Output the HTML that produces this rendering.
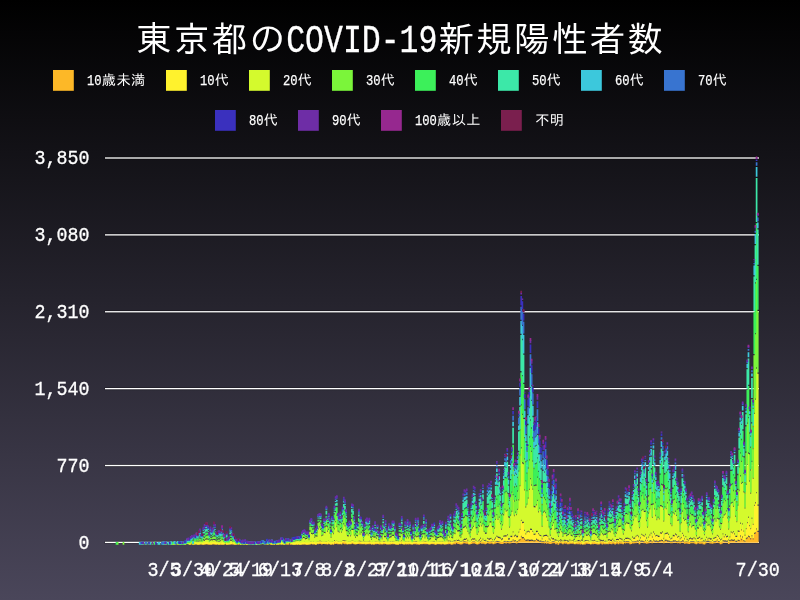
<!DOCTYPE html>
<html lang="ja"><head><meta charset="utf-8"><title>東京都のCOVID-19新規陽性者数</title>
<style>html,body{margin:0;padding:0;background:#4a465a}body{width:800px;height:600px;overflow:hidden;background:linear-gradient(to bottom,#000 0,#4a465a 600px)}svg{display:block}</style>
</head><body>
<svg width="800" height="600" viewBox="0 0 800 600">
<g fill="#fff"><rect x="104.6" y="540.9" width="655" height="3" fill="#000" fill-opacity=".3"/><rect x="105" y="541.75" width="654" height="1.3"/><rect x="104.6" y="464.02" width="655" height="3" fill="#000" fill-opacity=".3"/><rect x="105" y="464.87" width="654" height="1.3"/><rect x="104.6" y="387.14" width="655" height="3" fill="#000" fill-opacity=".3"/><rect x="105" y="387.99" width="654" height="1.3"/><rect x="104.6" y="310.26" width="655" height="3" fill="#000" fill-opacity=".3"/><rect x="105" y="311.11" width="654" height="1.3"/><rect x="104.6" y="233.38" width="655" height="3" fill="#000" fill-opacity=".3"/><rect x="105" y="234.23" width="654" height="1.3"/><rect x="104.6" y="156.5" width="655" height="3" fill="#000" fill-opacity=".3"/><rect x="105" y="157.35" width="654" height="1.3"/></g>
<g fill="none" stroke-width="1.7"><path stroke="#FDB827" d="M174.49 542.07V544.63M177.97 542.07V544.63M184.93 542.07V544.63M190.73 542.07V544.63M194.21 542.07V544.63M197.69 542.07V544.63M200.01 542.07V544.43M201.16 542.07V544.53M202.32 542.07V544.53M203.48 542.07V544.63M204.64 542.07V544.43M205.8 542.07V544.43M206.96 542.07V544.33M208.12 542.07V544.43M209.28 542.07V544.63M210.44 542.07V544.63M211.6 542.07V544.53M212.76 542.07V544.23M213.92 542.07V544.53M215.08 542.07V544.43M216.24 542.07V544.63M217.4 542.07V544.33M219.72 542.07V544.63M220.88 542.07V544.63M222.04 542.07V544.53M223.2 542.07V544.63M226.68 542.07V544.63M227.84 542.07V544.63M230.15 542.07V544.43M231.31 542.07V544.43M232.47 542.07V544.53M234.79 542.07V544.63M235.95 542.07V544.53M238.27 542.07V544.63M244.07 542.07V544.63M247.55 542.07V544.63M267.26 542.07V544.63M270.74 542.07V544.63M271.9 542.07V544.63M281.18 542.07V544.53M286.97 542.07V544.63M288.13 542.07V544.63M290.45 542.07V544.63M293.93 542.07V544.63M296.25 542.07V544.53M297.41 542.07V544.63M299.73 542.07V544.63M302.05 542.07V544.53M303.21 542.07V544.53M304.37 542.07V544.43M306.69 542.07V544.63M307.85 542.07V544.63M310.16 542.07V544.43M312.48 542.07V544.43M313.64 542.07V544.43M314.8 542.07V544.53M315.96 542.07V544.63M318.28 542.07V544.13M319.44 542.07V543.93M320.6 542.07V543.93M321.76 542.07V544.43M322.92 542.07V544.03M324.08 542.07V544.03M325.24 542.07V544.33M326.4 542.07V544.23M327.56 542.07V544.43M328.72 542.07V543.73M329.88 542.07V544.33M331.04 542.07V544.63M332.2 542.07V544.13M333.36 542.07V544.63M334.52 542.07V543.63M335.68 542.07V544.03M336.84 542.07V543.73M337.99 542.07V544.13M339.15 542.07V544.23M340.31 542.07V543.93M341.47 542.07V544.43M342.63 542.07V543.23M343.79 542.07V543.73M344.95 542.07V544.13M346.11 542.07V543.73M347.27 542.07V544.33M348.43 542.07V544.33M349.59 542.07V544.13M350.75 542.07V544.33M351.91 542.07V543.53M353.07 542.07V543.73M354.23 542.07V544.23M355.39 542.07V544.43M356.55 542.07V544.33M357.71 542.07V543.93M358.87 542.07V544.03M360.03 542.07V544.13M361.19 542.07V544.13M362.35 542.07V544.23M363.51 542.07V544.23M364.66 542.07V544.13M365.82 542.07V544.43M366.98 542.07V544.13M368.14 542.07V544.23M369.3 542.07V544.13M370.46 542.07V544.03M371.62 542.07V544.43M372.78 542.07V544.33M373.94 542.07V544.63M375.1 542.07V544.23M376.26 542.07V544.23M377.42 542.07V543.93M378.58 542.07V544.13M379.74 542.07V544.43M380.9 542.07V544.13M382.06 542.07V544.43M383.22 542.07V544.13M384.38 542.07V544.33M385.54 542.07V544.03M386.7 542.07V544.43M387.86 542.07V544.33M389.02 542.07V544.43M390.18 542.07V544.53M391.34 542.07V544.23M392.49 542.07V544.13M393.65 542.07V544.23M394.81 542.07V544.13M395.97 542.07V544.53M397.13 542.07V544.63M398.29 542.07V544.63M399.45 542.07V543.83M400.61 542.07V544.33M401.77 542.07V543.83M402.93 542.07V544.23M404.09 542.07V544.43M405.25 542.07V544.23M406.41 542.07V544.43M407.57 542.07V544.23M408.73 542.07V544.43M409.89 542.07V544.03M411.05 542.07V544.53M412.21 542.07V544.53M413.37 542.07V544.33M414.53 542.07V544.23M415.69 542.07V544.33M416.85 542.07V544.53M418.01 542.07V544.43M419.16 542.07V544.63M420.32 542.07V544.23M421.48 542.07V544.23M422.64 542.07V544.13M423.8 542.07V543.93M424.96 542.07V544.33M426.12 542.07V544.13M427.28 542.07V543.93M428.44 542.07V544.43M429.6 542.07V544.43M430.76 542.07V544.23M431.92 542.07V544.03M433.08 542.07V544.33M434.24 542.07V544.33M435.4 542.07V544.63M436.56 542.07V544.53M437.72 542.07V544.03M438.88 542.07V544.33M440.04 542.07V544.33M441.2 542.07V544.43M442.36 542.07V544.23M443.52 542.07V544.23M444.68 542.07V544.53M445.84 542.07V544.53M446.99 542.07V544.23M448.15 542.07V544.13M449.31 542.07V544.03M450.47 542.07V544.33M451.63 542.07V544.63M452.79 542.07V544.53M453.95 542.07V543.83M455.11 542.07V544.13M456.27 542.07V543.03M457.43 542.07V543.63M458.59 542.07V544.03M459.75 542.07V544.13M460.91 542.07V544.43M462.07 542.07V544.13M463.23 542.07V543.53M464.39 542.07V543.33M465.55 542.07V543.53M466.71 542.07V543.73M467.87 542.07V543.73M469.03 542.07V544.43M470.19 542.07V544.13M471.35 542.07V544.03M472.51 542.07V543.53M473.66 542.07V543.53M474.82 542.07V543.43M475.98 542.07V544.03M477.14 542.07V544.43M478.3 542.07V544.23M479.46 542.07V543.63M480.62 542.07V543.03M481.78 542.07V543.83M482.94 542.07V543.83M484.1 542.07V543.63M485.26 542.07V544.23M486.42 542.07V543.83M487.58 542.07V543.03M488.74 542.07V543.43M489.9 542.07V543.83M491.06 542.07V543.43M492.22 542.07V543.43M493.38 542.07V544.33M494.54 542.07V543.83M495.7 542.07V543.43M496.86 542.07V542.83M498.02 542.07V543.03M499.18 542.07V543.33M500.34 542.07V543.73M501.49 542.07V544.03M502.65 542.07V543.93M503.81 542.07V543.13M504.97 541.97V542.73M506.13 542.07V543.43M507.29 542.07V543.03M508.45 542.07V543.33M509.61 542.07V543.53M510.77 542.07V543.33M511.93 541.97V542.73M513.09 540.48V542.73M514.25 541.87V542.73M515.41 541.37V542.73M516.57 542.07V543.43M517.73 542.07V542.93M518.89 541.07V542.73M520.05 540.28V542.73M521.21 537.18V542.73M522.37 538.38V542.73M523.53 538.28V542.73M524.69 539.78V542.73M525.85 541.07V542.73M527.01 540.78V542.73M528.16 540.48V542.73M529.32 541.17V542.73M530.48 540.97V542.73M531.64 540.87V542.73M532.8 540.97V542.73M533.96 541.87V542.73M535.12 541.27V542.73M536.28 539.88V542.73M537.44 540.78V542.73M538.6 541.17V542.73M539.76 541.97V542.73M540.92 541.67V542.73M542.08 542.07V543.13M543.24 542.07V542.93M544.4 542.07V543.43M545.56 541.57V542.73M546.72 542.07V543.63M547.88 542.07V542.73M549.04 542.07V543.83M550.2 542.07V543.93M551.36 542.07V543.83M552.52 542.07V543.13M553.68 542.07V543.23M554.84 542.07V543.13M555.99 542.07V544.13M557.15 542.07V543.33M558.31 542.07V544.63M559.47 542.07V543.53M560.63 542.07V543.13M561.79 542.07V543.43M562.95 542.07V544.23M564.11 542.07V543.33M565.27 542.07V543.63M566.43 542.07V543.43M567.59 542.07V544.33M568.75 542.07V544.33M569.91 542.07V543.83M571.07 542.07V543.83M572.23 542.07V543.73M573.39 542.07V543.43M574.55 542.07V544.33M575.71 542.07V544.13M576.87 542.07V543.83M578.03 542.07V544.13M579.19 542.07V543.83M580.35 542.07V544.43M581.51 542.07V544.03M582.66 542.07V544.53M583.82 542.07V544.53M584.98 542.07V544.43M586.14 542.07V543.73M587.3 542.07V543.73M588.46 542.07V544.03M589.62 542.07V544.03M590.78 542.07V544.53M591.94 542.07V543.63M593.1 542.07V544.13M594.26 542.07V544.03M595.42 542.07V544.03M596.58 542.07V544.33M597.74 542.07V544.53M598.9 542.07V544.53M600.06 542.07V543.53M601.22 542.07V543.63M602.38 542.07V544.53M603.54 542.07V543.63M604.7 542.07V544.33M605.86 542.07V544.13M608.18 542.07V544.33M609.34 542.07V543.83M610.49 542.07V543.93M611.65 542.07V544.13M612.81 542.07V543.53M613.97 542.07V543.83M615.13 542.07V544.53M616.29 542.07V543.83M617.45 542.07V543.43M618.61 542.07V544.23M619.77 542.07V543.13M620.93 542.07V543.83M622.09 542.07V543.73M623.25 542.07V544.23M624.41 542.07V543.03M625.57 542.07V543.43M626.73 542.07V543.03M627.89 542.07V543.23M629.05 542.07V543.23M630.21 542.07V544.23M631.37 542.07V543.93M632.53 542.07V543.23M633.69 542.07V543.53M634.85 542.07V543.23M636.01 542.07V543.33M637.16 541.47V542.73M638.32 542.07V542.83M639.48 542.07V544.23M640.64 542.07V542.83M641.8 541.77V542.73M642.96 542.07V542.83M644.12 542.07V543.23M645.28 541.07V542.73M646.44 542.07V543.73M647.6 542.07V543.53M648.76 542.07V543.23M649.92 541.67V542.73M651.08 541.47V542.73M652.24 542.07V543.23M653.4 540.48V542.73M654.56 541.87V542.73M655.72 542.07V542.73M656.88 541.67V542.73M658.04 542.07V542.93M659.2 541.67V542.73M660.36 541.47V542.73M661.52 540.87V542.73M662.68 541.27V542.73M663.84 542.07V543.33M664.99 541.17V542.73M666.15 540.87V542.73M667.31 541.67V542.73M668.47 541.77V542.73M669.63 541.97V542.73M670.79 542.07V543.33M671.95 542.07V543.23M673.11 541.67V542.73M674.27 541.87V542.73M675.43 541.57V542.73M676.59 542.07V542.93M677.75 542.07V543.13M678.91 541.67V542.73M680.07 542.07V543.53M681.23 542.07V542.93M682.39 541.47V542.73M683.55 541.77V542.73M684.71 542.07V543.73M685.87 542.07V543.53M687.03 542.07V543.43M688.19 542.07V543.83M689.35 542.07V543.93M690.51 542.07V543.13M691.66 542.07V543.23M692.82 542.07V543.23M693.98 542.07V543.13M695.14 542.07V543.73M696.3 542.07V544.23M697.46 542.07V543.53M698.62 542.07V543.13M699.78 542.07V543.73M700.94 542.07V543.83M702.1 542.07V543.23M703.26 542.07V544.13M704.42 542.07V544.43M705.58 542.07V543.43M706.74 541.97V542.73M707.9 542.07V542.73M709.06 541.97V542.73M710.22 542.07V543.43M711.38 542.07V543.53M712.54 542.07V543.73M713.7 542.07V543.13M714.86 542.07V543.23M716.02 541.97V542.73M717.18 540.58V542.73M718.34 542.07V543.03M719.49 542.07V543.23M720.65 542.07V544.13M721.81 542.07V543.63M722.97 541.27V542.73M724.13 541.87V542.73M725.29 541.67V542.73M726.45 542.07V542.83M727.61 541.77V542.73M728.77 542.07V543.93M729.93 541.27V542.73M731.09 540.58V542.73M732.25 540.78V542.73M733.41 540.97V542.73M734.57 540.58V542.73M735.73 542.07V542.83M736.89 541.97V542.73M738.05 540.87V542.73M739.21 541.27V542.73M740.37 536.68V542.73M741.53 540.18V542.73M742.69 537.68V542.73M743.85 541.27V542.73M745.01 542.07V542.83M746.16 539.18V542.73M747.32 538.48V542.73M748.48 536.88V542.73M749.64 537.48V542.73M750.8 539.38V542.73M751.96 536.38V542.73M753.12 539.58V542.73M754.28 533.99V542.73M755.44 533.59V542.73M756.6 529.59V542.73M757.76 532.09V542.73"/><path stroke="#FFF22D" d="M171.02 542.07V544.63M189.57 542.07V544.63M193.05 542.07V544.63M195.37 542.07V544.43M196.53 542.07V544.53M197.69 541.97V544.43M198.85 542.07V544.63M200.01 541.77V544.13M202.32 541.87V544.43M203.48 541.97V544.53M204.64 541.77V544.13M205.8 541.77V544.03M206.96 541.67V544.03M208.12 541.77V544.13M209.28 541.97V544.33M210.44 541.97V544.33M211.6 541.87V544.43M212.76 541.57V543.83M213.92 541.87V543.83M215.08 541.77V544.13M216.24 541.97V544.33M217.4 541.67V544.23M218.56 542.07V544.63M219.72 541.97V544.33M222.04 541.87V544.43M223.2 541.97V544.23M224.36 542.07V544.53M226.68 541.97V544.43M227.84 541.97V544.53M228.99 542.07V544.53M230.15 541.77V544.23M231.31 541.77V543.93M233.63 542.07V544.53M234.79 541.97V544.53M235.95 541.87V544.43M240.59 542.07V544.63M246.39 542.07V544.63M256.82 542.07V544.63M271.9 541.97V544.53M274.22 542.07V544.63M276.54 542.07V544.63M277.7 542.07V544.63M278.86 542.07V544.63M281.18 541.87V544.43M282.34 542.07V544.53M283.49 542.07V544.63M284.65 542.07V544.63M291.61 542.07V544.53M292.77 542.07V544.63M293.93 541.97V544.53M295.09 542.07V544.63M296.25 541.87V544.13M297.41 541.97V544.53M298.57 542.07V544.53M299.73 541.97V544.53M300.89 542.07V544.63M302.05 541.87V544.33M303.21 541.87V544.23M304.37 541.77V543.73M305.53 542.07V544.43M306.69 541.97V544.43M307.85 541.97V544.43M309.01 542.07V544.53M310.16 541.77V543.83M311.32 542.07V543.83M312.48 541.77V543.93M313.64 541.77V543.53M314.8 541.87V543.93M315.96 541.97V544.43M317.12 542.07V543.73M318.28 541.47V543.43M319.44 541.27V542.83M320.6 541.27V542.83M321.76 541.77V543.53M322.92 541.37V543.83M324.08 541.37V543.43M325.24 541.67V543.73M326.4 541.57V543.33M327.56 541.77V543.93M328.72 541.07V542.73M329.88 541.67V543.73M331.04 541.97V544.33M332.2 541.47V543.33M333.36 541.97V543.93M334.52 540.97V541.93M335.68 541.37V543.13M336.84 541.07V542.83M337.99 541.47V543.23M339.15 541.57V543.63M340.31 541.27V543.23M341.47 541.77V543.63M342.63 540.57V542.03M343.79 541.07V542.13M344.95 541.47V542.53M346.11 541.07V542.63M347.27 541.67V544.13M348.43 541.67V543.73M349.59 541.47V543.63M350.75 541.67V543.83M351.91 540.87V542.53M353.07 541.07V542.83M354.23 541.57V543.73M355.39 541.77V543.73M356.55 541.67V543.93M357.71 541.27V543.43M358.87 541.37V542.83M360.03 541.47V542.83M361.19 541.47V543.23M362.35 541.57V543.73M363.51 541.57V543.83M364.66 541.47V543.23M365.82 541.77V543.63M366.98 541.47V543.63M368.14 541.57V543.53M369.3 541.47V542.83M370.46 541.37V543.23M371.62 541.77V544.23M372.78 541.67V543.83M373.94 541.97V544.03M375.1 541.57V543.43M376.26 541.57V543.43M377.42 541.27V543.23M378.58 541.47V543.63M380.9 541.47V543.23M382.06 541.77V544.03M383.22 541.47V542.93M384.38 541.67V542.93M385.54 541.37V543.53M386.7 541.77V544.03M387.86 541.67V544.13M389.02 541.77V543.93M390.18 541.87V543.33M391.34 541.57V543.63M392.49 541.47V543.03M393.65 541.57V543.43M394.81 541.47V543.73M395.97 541.87V544.33M397.13 541.97V544.13M398.29 541.97V544.23M399.45 541.17V543.43M400.61 541.67V543.63M401.77 541.17V542.33M402.93 541.57V543.93M404.09 541.77V544.23M405.25 541.57V543.33M406.41 541.77V543.73M407.57 541.57V543.83M408.73 541.77V543.43M409.89 541.37V543.43M411.05 541.87V543.93M412.21 541.87V544.33M413.37 541.67V543.43M414.53 541.57V543.33M415.69 541.67V543.23M416.85 541.87V543.33M418.01 541.77V544.03M419.16 541.97V543.63M420.32 541.57V544.03M421.48 541.57V543.83M422.64 541.47V543.63M423.8 541.27V542.83M424.96 541.67V543.33M426.12 541.47V543.23M427.28 541.27V543.43M428.44 541.77V543.93M429.6 541.77V544.23M430.76 541.57V543.63M431.92 541.37V543.03M433.08 541.67V543.53M434.24 541.67V542.93M435.4 541.97V544.23M436.56 541.87V543.73M437.72 541.37V543.53M438.88 541.67V543.73M440.04 541.67V543.63M441.2 541.77V543.73M442.36 541.57V543.33M443.52 541.57V543.83M444.68 541.87V544.13M445.84 541.87V543.73M446.99 541.57V543.93M448.15 541.47V542.53M449.31 541.37V542.63M450.47 541.67V542.63M451.63 541.97V543.73M452.79 541.87V543.33M453.95 541.17V542.53M455.11 541.47V542.23M456.27 540.37V541.63M457.43 540.97V541.93M458.59 540.78V542.03M459.75 541.47V542.43M460.91 541.77V543.33M462.07 541.47V542.73M463.23 540.87V541.53M464.39 539.88V541.33M465.55 540.08V541.53M466.71 539.28V541.73M467.87 540.97V541.73M469.03 541.77V543.73M470.19 541.47V543.23M471.35 540.58V542.03M472.51 539.58V541.53M473.66 539.78V541.53M474.82 539.48V541.43M475.98 541.07V542.03M477.14 541.77V543.43M478.3 541.57V542.53M479.46 540.38V541.63M480.62 538.88V541.03M481.78 541.17V542.33M482.94 539.78V541.83M484.1 540.97V542.13M485.26 541.17V542.23M486.42 541.17V542.83M487.58 538.98V541.03M488.74 539.78V541.43M489.9 539.68V541.83M491.06 539.08V541.43M492.22 540.28V541.43M493.38 541.67V543.03M494.54 540.18V541.83M495.7 538.68V541.43M496.86 536.88V540.83M498.02 537.88V541.03M499.18 538.18V541.33M500.34 538.68V541.73M501.49 540.18V542.03M502.65 539.38V541.93M503.81 536.88V541.13M504.97 536.58V540.63M506.13 536.68V541.43M507.29 535.38V541.03M508.45 539.68V541.33M509.61 539.48V541.53M510.77 536.98V541.33M511.93 537.18V540.63M513.09 532.49V539.14M514.25 536.88V540.53M515.41 535.88V540.03M516.57 537.18V541.43M517.73 537.18V540.93M518.89 532.79V539.73M520.05 530.09V538.94M521.21 521.01V535.84M522.37 523.2V537.04M523.53 523.1V536.94M524.69 531.09V538.44M525.85 534.58V539.73M527.01 532.69V539.44M528.16 531.79V539.14M529.32 532.49V539.83M530.48 529.89V539.63M531.64 530.09V539.53M532.8 532.09V539.63M533.96 534.98V540.53M535.12 534.78V539.93M536.28 532.19V538.54M537.44 532.09V539.44M538.6 534.29V539.83M539.76 535.78V540.63M540.92 536.28V540.33M542.08 539.48V541.13M543.24 536.78V540.93M544.4 536.28V541.43M545.56 536.08V540.23M546.72 535.98V541.63M547.88 536.98V540.73M549.04 539.58V541.83M550.2 540.87V541.93M551.36 538.58V541.83M552.52 539.58V541.13M553.68 539.38V541.23M554.84 540.47V541.44M555.99 540.58V542.13M557.15 540.67V542.33M558.31 541.97V542.73M559.47 540.87V542.33M560.63 540.38V541.13M561.79 540.77V541.73M562.95 541.57V542.83M564.11 540.67V541.83M565.27 540.97V541.83M566.43 540.77V542.13M567.59 541.67V542.33M568.75 541.67V542.63M569.91 540.58V541.83M571.07 541.17V542.73M572.23 541.07V542.53M573.39 540.77V541.53M574.55 541.67V543.63M575.71 541.47V543.03M576.87 541.17V542.73M578.03 541.37V542.13M579.19 541.17V542.03M580.35 541.77V542.63M581.51 540.87V542.03M582.66 541.87V544.33M583.82 541.87V543.43M584.98 541.47V542.43M586.14 541.07V542.23M587.3 541.07V542.53M588.46 541.37V542.53M589.62 541.37V542.93M590.78 541.87V543.93M591.94 540.97V542.23M593.1 541.47V542.43M594.26 540.97V542.03M595.42 541.37V542.83M596.58 541.67V543.13M597.74 541.87V543.23M598.9 541.87V543.73M600.06 540.68V541.53M601.22 540.97V541.73M602.38 541.57V542.53M603.54 540.97V541.83M604.7 541.67V542.93M605.86 541.47V542.43M607.02 542.07V543.63M608.18 540.68V542.33M609.34 540.28V541.83M610.49 540.97V541.93M611.65 541.17V542.13M612.81 539.78V541.53M613.97 541.17V541.93M615.13 541.87V543.03M616.29 540.28V541.83M617.45 539.98V541.43M618.61 540.28V542.23M619.77 539.08V541.13M620.93 539.58V541.83M622.09 540.18V541.73M623.25 541.57V542.83M624.41 540.37V541.04M625.57 539.08V541.43M626.73 538.98V541.03M627.89 538.78V541.23M629.05 539.28V541.23M630.21 540.08V542.23M631.37 541.27V542.43M632.53 537.68V541.23M633.69 539.08V541.53M634.85 538.68V541.23M636.01 536.98V541.33M637.16 535.98V540.13M638.32 537.18V540.83M639.48 541.07V542.23M640.64 538.58V540.83M641.8 535.08V540.43M642.96 536.08V540.83M644.12 536.88V541.23M645.28 535.18V539.73M646.44 538.68V541.73M647.6 540.87V541.93M648.76 537.78V541.23M649.92 535.68V540.33M651.08 533.89V540.13M652.24 537.68V541.23M653.4 532.69V539.14M654.56 534.58V540.53M655.72 536.58V540.73M656.88 536.08V540.33M658.04 536.88V540.93M659.2 536.98V540.33M660.36 533.49V540.13M661.52 533.89V539.53M662.68 532.49V539.93M663.84 539.18V541.33M664.99 534.58V539.83M666.15 533.99V539.53M667.31 533.69V540.33M668.47 535.08V540.43M669.63 537.78V540.63M670.79 539.48V541.33M671.95 538.78V541.23M673.11 536.18V540.33M674.27 536.38V540.53M675.43 534.68V540.23M676.59 535.58V540.93M677.75 537.88V541.13M678.91 536.98V540.33M680.07 539.48V541.53M681.23 538.28V540.93M682.39 533.99V540.13M683.55 536.18V540.43M684.71 539.48V541.73M685.87 537.28V541.53M687.03 540.08V541.43M688.19 541.17V541.83M689.35 539.38V541.93M690.51 538.68V541.13M691.66 539.48V541.23M692.82 539.58V541.23M693.98 538.28V541.13M695.14 539.38V541.73M696.3 541.57V542.83M697.46 539.08V541.53M698.62 538.78V541.13M699.78 537.88V541.73M700.94 539.78V541.83M702.1 538.98V541.23M703.26 541.47V542.23M704.42 541.77V542.83M705.58 540.48V541.43M706.74 538.08V540.63M707.9 539.78V540.73M709.06 538.78V540.63M710.22 539.68V541.43M711.38 539.58V541.53M712.54 541.07V542.13M713.7 539.08V541.13M714.86 538.58V541.23M716.02 537.98V540.63M717.18 535.98V539.24M718.34 537.08V541.03M719.49 539.08V541.23M720.65 540.38V542.13M721.81 539.48V541.63M722.97 534.58V539.93M724.13 537.38V540.53M725.29 535.38V540.33M726.45 537.38V540.83M727.61 536.88V540.43M728.77 540.58V541.93M729.93 537.58V539.93M731.09 532.59V539.24M732.25 533.59V539.44M733.41 532.29V539.63M734.57 534.48V539.24M735.73 537.08V540.83M736.89 536.98V540.63M738.05 531.69V539.53M739.21 531.99V539.93M740.37 523.9V535.34M741.53 530.59V538.84M742.69 524.6V536.34M743.85 531.79V539.93M745.01 535.88V540.83M746.16 529.29V537.84M747.32 523.3V537.14M748.48 517.91V535.54M749.64 526.3V536.14M750.8 529.29V538.04M751.96 518.91V535.04M753.12 525V538.24M754.28 506.03V532.65M755.44 503.43V532.25M756.6 493.35V528.25M757.76 505.83V530.75"/><path stroke="#D4FA2D" d="M142.03 542.07V544.53M145.51 542.07V544.63M148.98 542.07V544.63M165.22 542.07V544.63M166.38 542.07V544.53M169.86 542.07V544.63M172.18 542.07V544.63M173.34 542.07V544.63M174.49 541.97V544.33M175.65 542.07V544.63M177.97 541.97V544.23M179.13 542.07V544.53M181.45 542.07V544.53M182.61 542.07V544.53M184.93 541.97V544.53M186.09 542.07V544.23M187.25 542.07V543.93M188.41 542.07V544.23M189.57 541.97V544.03M190.73 541.97V543.63M191.89 542.07V543.33M193.05 541.97V544.33M194.21 541.97V543.23M195.37 541.67V542.43M196.53 541.87V543.33M197.69 541.77V543.03M198.85 541.77V542.63M200.01 541.47V542.63M201.16 541.87V543.63M202.32 541.77V542.93M203.48 540.38V542.53M204.64 540.97V542.13M205.8 539.88V542.03M206.96 539.38V542.03M208.12 539.98V542.13M209.28 541.67V543.03M210.44 540.87V542.33M211.6 540.18V542.43M212.76 540.58V541.83M213.92 540.08V541.83M215.08 540.38V542.13M216.24 541.47V542.33M217.4 541.57V542.63M218.56 541.97V543.13M219.72 541.67V542.83M220.88 541.37V542.63M222.04 540.08V542.43M223.2 541.57V542.23M224.36 541.87V543.23M225.52 542.07V543.83M226.68 541.77V542.43M227.84 541.87V543.73M228.99 541.87V543.63M230.15 540.78V542.23M231.31 541.07V541.93M232.47 541.87V542.83M233.63 541.87V543.03M234.79 541.87V543.33M235.95 541.77V544.23M237.11 542.07V544.23M238.27 541.97V543.83M239.43 542.07V544.23M240.59 541.97V544.33M241.75 542.07V544.43M242.91 542.07V544.43M245.23 542.07V544.23M246.39 541.97V544.33M247.55 541.97V544.53M248.71 542.07V544.63M249.87 542.07V544.33M252.19 542.07V544.63M253.35 542.07V544.43M254.51 542.07V544.63M255.66 542.07V544.63M256.82 541.97V544.13M257.98 542.07V544.53M259.14 542.07V544.43M260.3 542.07V544.23M261.46 542.07V544.13M262.62 542.07V543.93M263.78 542.07V544.13M264.94 542.07V544.43M266.1 542.07V544.13M267.26 541.97V543.83M268.42 542.07V544.53M269.58 542.07V543.83M270.74 541.97V543.93M271.9 541.87V543.53M273.06 542.07V544.53M274.22 541.97V544.13M275.38 542.07V544.03M276.54 541.97V544.03M277.7 541.97V543.93M278.86 541.97V543.83M280.02 542.07V543.63M281.18 541.07V542.43M282.34 541.87V543.03M283.49 541.97V543.43M284.65 541.97V544.13M285.81 542.07V543.13M286.97 541.97V543.43M288.13 541.97V543.53M289.29 542.07V543.23M290.45 541.97V543.13M291.61 541.87V543.13M292.77 541.97V542.73M293.93 541.87V542.73M295.09 541.47V542.63M296.25 541.27V542.13M297.41 541.07V542.53M298.57 540.97V542.53M299.73 541.17V542.53M300.89 540.97V542.63M302.05 539.28V542.33M303.21 537.98V542.23M304.37 538.28V541.73M305.53 539.38V542.43M306.69 538.98V542.43M307.85 538.18V542.43M309.01 540.18V542.53M310.16 531.69V541.83M311.32 534.09V541.83M312.48 534.48V541.93M313.64 533.89V541.53M314.8 537.88V541.93M315.96 536.38V542.43M317.12 536.78V541.73M318.28 529.49V541.43M319.44 527.6V540.83M320.6 529.99V540.83M321.76 536.28V541.53M322.92 535.58V541.83M324.08 533.09V541.43M325.24 533.29V541.73M326.4 526.5V541.33M327.56 531.89V541.93M328.72 530.09V540.73M329.88 533.79V541.73M331.04 538.08V542.33M332.2 532.39V541.33M333.36 534.19V541.93M334.52 529.49V539.93M335.68 522.3V541.13M336.84 527.2V540.83M337.99 531.69V541.23M339.15 532.79V541.63M340.31 529.39V541.23M341.47 532.79V541.63M342.63 530.29V540.03M343.79 524.4V540.13M344.95 526.4V540.53M346.11 531.19V540.63M347.27 536.28V542.13M348.43 536.58V541.73M349.59 534.09V541.63M350.75 536.38V541.83M351.91 529.89V540.53M353.07 530.09V540.83M354.23 535.78V541.73M355.39 537.88V541.73M356.55 536.08V541.93M357.71 536.48V541.43M358.87 530.19V540.83M360.03 534.78V540.83M361.19 532.89V541.23M362.35 535.78V541.73M363.51 540.87V541.83M364.66 536.28V541.23M365.82 535.18V541.63M366.98 533.79V541.63M368.14 535.48V541.53M369.3 534.09V540.83M370.46 537.68V541.23M371.62 539.98V542.23M372.78 536.98V541.83M373.94 537.88V542.03M375.1 537.38V541.43M376.26 538.88V541.43M377.42 536.38V541.23M378.58 540.18V541.63M379.74 541.57V542.43M380.9 537.48V541.23M382.06 539.58V542.03M383.22 534.39V540.93M384.38 537.18V540.93M385.54 537.28V541.53M386.7 539.18V542.03M387.86 541.47V542.13M389.02 538.58V541.93M390.18 537.68V541.33M391.34 537.18V541.63M392.49 536.08V541.03M393.65 536.08V541.43M394.81 537.68V541.73M395.97 540.97V542.33M397.13 540.48V542.13M398.29 541.47V542.23M399.45 536.98V541.43M400.61 537.48V541.63M401.77 533.89V540.33M402.93 539.78V541.93M404.09 541.37V542.23M405.25 537.18V541.33M406.41 538.48V541.73M407.57 536.68V541.83M408.73 538.48V541.43M409.89 536.18V541.43M411.05 539.78V541.93M412.21 541.67V542.63M413.37 538.48V541.43M414.53 539.88V541.33M415.69 536.48V541.23M416.85 537.38V541.33M418.01 536.78V542.03M419.16 538.48V541.63M420.32 541.37V542.33M421.48 539.48V541.83M422.64 537.48V541.63M423.8 534.58V540.83M424.96 538.48V541.33M426.12 536.58V541.23M427.28 538.68V541.43M428.44 541.27V542.23M429.6 539.78V542.23M430.76 539.28V541.63M431.92 536.68V541.03M433.08 537.68V541.53M434.24 536.28V540.93M435.4 539.88V542.23M436.56 540.48V541.73M437.72 538.38V541.53M438.88 538.08V541.73M440.04 537.18V541.63M441.2 537.28V541.73M442.36 538.18V541.33M443.52 539.28V541.83M444.68 541.17V542.13M445.84 538.48V541.73M446.99 540.58V541.93M448.15 536.08V540.53M449.31 537.78V540.63M450.47 534.58V540.63M451.63 537.98V541.73M452.79 538.58V541.33M453.95 533.49V540.53M455.11 534.29V540.23M456.27 529.79V539.63M457.43 531.59V539.93M458.59 531.39V539.44M459.75 536.38V540.43M460.91 537.98V541.33M462.07 534.58V540.73M463.23 528.19V539.53M464.39 527.7V538.54M465.55 526.7V538.74M466.71 528.59V537.94M467.87 531.99V539.63M469.03 534.19V541.73M470.19 537.48V541.23M471.35 530.59V539.24M472.51 528.59V538.24M473.66 527V538.44M474.82 522.4V538.14M475.98 528.49V539.73M477.14 535.08V541.43M478.3 532.49V540.53M479.46 526.9V539.04M480.62 522.9V537.54M481.78 526.4V540.33M482.94 524.2V538.44M484.1 532.09V540.13M485.26 533.89V539.83M486.42 533.79V540.83M487.58 527.4V537.64M488.74 526.4V538.44M489.9 522.6V538.34M491.06 522.5V537.74M492.22 527.3V538.94M493.38 533.79V541.03M494.54 528.79V538.84M495.7 520.11V537.34M496.86 515.31V535.54M498.02 520.01V536.54M499.18 517.81V536.84M500.34 524.3V537.34M501.49 529.89V538.84M502.65 525.5V538.04M503.81 515.41V535.54M504.97 509.72V535.24M506.13 511.72V535.34M507.29 510.82V534.04M508.45 517.51V538.34M509.61 527.8V538.14M510.77 515.81V535.64M511.93 511.92V535.84M513.09 495.25V531.15M514.25 516.21V535.54M515.41 512.72V534.54M516.57 515.31V535.84M517.73 510.12V535.84M518.89 500.44V531.45M520.05 486.26V528.75M521.21 448.42V519.67M522.37 463.4V521.86M523.53 464.19V521.76M524.69 490.55V529.75M525.85 507.63V533.24M527.01 504.83V531.35M528.16 498.64V530.45M529.32 490.05V531.15M530.48 479.37V528.55M531.64 485.66V528.75M532.8 489.85V530.75M533.96 507.13V533.64M535.12 507.43V533.44M536.28 505.43V530.85M537.44 501.04V530.75M538.6 512.42V532.95M539.76 508.73V534.44M540.92 511.82V534.94M542.08 527V538.14M543.24 512.92V535.44M544.4 511.72V534.94M545.56 513.32V534.74M546.72 517.41V534.64M547.88 521.01V535.64M549.04 527.5V538.24M550.2 535.88V539.53M551.36 529.39V537.24M552.52 526.1V538.24M553.68 523.3V538.04M554.84 530.09V539.44M555.99 529.19V539.24M557.15 533.39V540.33M558.31 536.98V540.73M559.47 533.19V540.33M560.63 530.19V539.04M561.79 532.29V539.73M562.95 536.98V540.83M564.11 534.58V539.83M565.27 533.79V539.83M566.43 536.28V540.13M567.59 535.48V540.33M568.75 534.98V540.63M569.91 533.39V539.24M571.07 535.88V540.73M572.23 536.58V540.53M573.39 534.78V539.53M574.55 540.08V541.63M575.71 537.58V541.03M576.87 536.98V540.73M578.03 535.08V540.03M579.19 537.28V540.03M580.35 535.58V540.63M581.51 534.58V539.53M582.66 540.78V542.33M583.82 537.58V541.43M584.98 533.49V540.13M586.14 535.68V540.23M587.3 535.98V540.53M588.46 534.88V540.53M589.62 536.28V540.93M590.78 540.28V541.93M591.94 535.28V540.23M593.1 534.29V540.43M594.26 533.99V539.63M595.42 534.88V540.83M596.58 535.48V541.13M597.74 537.98V541.23M598.9 539.78V541.73M600.06 535.48V539.34M601.22 532.59V539.73M602.38 534.29V540.23M603.54 535.58V539.83M604.7 534.78V540.93M605.86 534.88V540.43M607.02 538.28V541.63M608.18 532.39V539.34M609.34 531.79V538.94M610.49 532.59V539.63M611.65 529.29V539.83M612.81 530.59V538.44M613.97 534.29V539.93M615.13 537.08V541.03M616.29 533.89V538.94M617.45 530.79V538.64M618.61 527.2V538.94M619.77 527V537.74M620.93 526.5V538.24M622.09 529.49V538.84M623.25 534.68V540.83M624.41 530.89V539.04M625.57 524.6V537.74M626.73 523.2V537.64M627.89 523.9V537.44M629.05 524V537.94M630.21 528.59V538.74M631.37 531.49V540.43M632.53 525.3V536.34M633.69 520.61V537.74M634.85 516.31V537.34M636.01 517.51V535.64M637.16 515.12V534.64M638.32 522.6V535.84M639.48 528.29V539.73M640.64 518.41V537.24M641.8 511.12V533.74M642.96 510.12V534.74M644.12 512.12V535.54M645.28 511.92V533.84M646.44 521.21V537.34M647.6 527.8V539.93M648.76 513.82V536.44M649.92 509.42V534.34M651.08 505.13V532.55M652.24 518.11V536.34M653.4 504.53V531.35M654.56 509.62V533.24M655.72 516.21V535.24M656.88 520.21V534.74M658.04 517.91V535.54M659.2 519.61V535.64M660.36 506.33V532.15M661.52 506.53V532.55M662.68 507.33V531.15M663.84 521.8V537.84M664.99 507.53V533.24M666.15 509.22V532.65M667.31 503.43V532.35M668.47 515.02V533.74M669.63 515.71V536.44M670.79 524.3V538.14M671.95 526.3V537.44M673.11 513.32V534.84M674.27 514.52V535.04M675.43 511.92V533.34M676.59 516.01V534.24M677.75 521.01V536.54M678.91 520.51V535.64M680.07 531.99V538.14M681.23 523.3V536.94M682.39 511.72V532.65M683.55 518.91V534.84M684.71 520.91V538.14M685.87 520.11V535.94M687.03 523.9V538.74M688.19 532.49V539.83M689.35 525.4V538.04M690.51 522.8V537.34M691.66 527.5V538.14M692.82 526.3V538.24M693.98 526.1V536.94M695.14 529.39V538.04M696.3 536.38V540.83M697.46 528.39V537.74M698.62 528.79V537.44M699.78 525.5V536.54M700.94 526.8V538.44M702.1 523.5V537.64M703.26 530.59V540.23M704.42 535.28V540.83M705.58 530.29V539.14M706.74 522.9V536.74M707.9 526V538.44M709.06 525.3V537.44M710.22 527.2V538.34M711.38 531.19V538.24M712.54 534.58V540.13M713.7 526.2V537.74M714.86 519.41V537.24M716.02 521.8V536.64M717.18 518.81V534.64M718.34 519.61V535.74M719.49 527.5V537.74M720.65 529.99V539.04M721.81 524.3V538.14M722.97 518.01V533.24M724.13 515.71V536.04M725.29 514.62V534.04M726.45 511.52V536.04M727.61 518.51V535.54M728.77 529.79V539.24M729.93 518.21V536.24M731.09 503.93V531.25M732.25 503.03V532.25M733.41 507.03V530.95M734.57 500.64V533.14M735.73 516.91V535.74M736.89 522.3V535.64M738.05 505.83V530.35M739.21 491.15V530.65M740.37 476.38V522.56M741.53 484.06V529.25M742.69 482.97V523.26M743.85 492.45V530.45M745.01 508.83V534.54M746.16 484.96V527.95M747.32 465.59V521.96M748.48 453.71V516.57M749.64 481.67V524.96M750.8 493.95V527.95M751.96 462V517.57M753.12 478.97V523.66M754.28 414.07V504.69M755.44 399.8V502.09M756.6 368.64V492.01M757.76 373.84V504.49"/><path stroke="#7BF53A" d="M117.68 542.07V544.63M123.47 542.07V544.63M142.03 541.87V544.33M143.19 542.07V544.63M146.66 542.07V544.53M152.46 542.07V544.63M154.78 542.07V544.53M159.42 542.07V544.63M164.06 542.07V544.33M171.02 541.97V544.43M173.34 541.97V544.53M177.97 541.57V543.83M179.13 541.87V544.43M180.29 542.07V544.63M181.45 541.87V544.33M182.61 541.87V544.33M183.77 542.07V544.63M184.93 541.87V544.43M186.09 541.57V543.83M187.25 541.27V543.43M188.41 541.57V543.33M189.57 541.37V543.23M190.73 540.97V542.83M191.89 540.67V541.93M193.05 541.67V544.13M194.21 540.57V541.93M195.37 539.67V541.73M196.53 540.38V541.33M197.69 540.37V541.44M198.85 539.38V540.43M200.01 538.68V540.63M201.16 540.87V541.63M202.32 540.27V541.63M203.48 537.48V539.04M204.64 538.08V539.63M205.8 536.58V538.54M206.96 535.78V538.04M208.12 535.48V538.64M209.28 540.37V541.53M210.44 537.78V539.53M211.6 538.08V538.84M212.76 537.28V539.24M213.92 536.48V538.74M215.08 536.68V539.04M216.24 539.38V540.13M217.4 539.88V540.63M218.56 539.38V541.13M219.72 539.58V540.83M220.88 538.38V540.03M222.04 536.78V538.74M223.2 539.57V541.04M224.36 540.57V542.13M225.52 541.17V542.93M226.68 539.68V540.43M227.84 541.07V542.73M228.99 540.97V542.63M230.15 538.18V539.44M231.31 538.28V539.73M232.47 540.08V540.83M233.63 540.37V541.73M234.79 540.67V541.83M235.95 541.57V543.43M237.11 541.57V543.83M238.27 541.17V543.13M239.43 541.57V543.33M240.59 541.67V544.13M241.75 541.77V544.03M242.91 541.77V544.13M244.07 541.97V544.43M245.23 541.57V543.63M247.55 541.87V543.93M248.71 541.97V544.53M249.87 541.67V544.23M251.03 542.07V544.63M252.19 541.97V544.53M253.35 541.77V544.33M256.82 541.47V543.93M257.98 541.87V544.33M259.14 541.77V544.23M260.3 541.57V544.13M261.46 541.47V543.93M262.62 541.27V543.33M263.78 541.47V543.73M266.1 541.47V543.73M267.26 541.17V543.13M268.42 541.87V544.13M269.58 541.17V542.93M270.74 541.27V543.43M271.9 540.87V542.73M273.06 541.87V543.93M274.22 541.47V543.93M275.38 541.37V543.93M276.54 541.37V543.53M277.7 541.27V543.33M278.86 541.17V543.43M280.02 540.97V543.23M281.18 539.07V540.64M282.34 540.37V541.73M283.49 540.77V542.73M284.65 541.47V543.83M285.81 540.47V542.33M286.97 540.77V542.73M288.13 540.87V542.33M289.29 540.57V542.53M290.45 540.47V542.53M291.61 540.47V542.23M292.77 540.07V540.94M293.93 540.07V541.44M295.09 539.47V540.74M296.25 539.27V540.74M297.41 539.07V540.44M298.57 538.97V540.74M299.73 539.17V540.74M300.89 538.97V539.74M302.05 535.78V537.94M303.21 534.88V536.64M304.37 535.48V536.94M305.53 536.58V538.04M306.69 536.88V537.64M307.85 536.18V537.14M309.01 538.18V539.34M310.16 526.5V530.35M311.32 527.3V532.75M312.48 529.79V533.14M313.64 529.39V532.55M314.8 535.38V536.54M315.96 533.19V535.04M317.12 533.19V535.44M318.28 522.9V528.15M319.44 521.9V526.26M320.6 523.8V528.65M321.76 531.49V534.94M322.92 531.99V534.24M324.08 527.8V531.75M325.24 527.2V531.95M326.4 519.81V525.16M327.56 527.2V530.55M328.72 523.4V528.75M329.88 528.29V532.45M331.04 534.98V536.74M332.2 525.8V531.05M333.36 528.19V532.85M334.52 520.51V528.15M335.68 512.22V520.96M336.84 515.91V525.86M337.99 525.1V530.35M339.15 525.5V531.45M340.31 522.9V528.05M341.47 528.49V531.45M342.63 521.7V528.95M343.79 515.31V523.06M344.95 517.71V525.06M346.11 523.5V529.85M347.27 531.19V534.94M348.43 532.29V535.24M349.59 528.99V532.75M350.75 531.29V535.04M351.91 519.01V528.55M353.07 520.81V528.75M354.23 529.39V534.44M355.39 534.58V536.54M356.55 532.39V534.74M357.71 532.79V535.14M358.87 523.2V528.85M360.03 527.8V533.44M361.19 526.3V531.55M362.35 531.29V534.44M363.51 537.98V539.53M364.66 533.29V534.94M365.82 529.89V533.84M366.98 528.49V532.45M368.14 530.49V534.14M369.3 529.59V532.75M370.46 534.39V536.34M371.62 537.68V538.64M372.78 533.49V535.64M373.94 535.38V536.54M375.1 532.59V536.04M376.26 535.88V537.54M377.42 533.39V535.04M378.58 537.78V538.84M379.74 539.57V540.64M380.9 533.89V536.14M382.06 537.38V538.24M383.22 528.99V533.05M384.38 532.79V535.84M385.54 532.19V535.94M386.7 536.18V537.84M387.86 539.47V540.74M389.02 534.88V537.24M390.18 534.48V536.34M391.34 534.48V535.84M392.49 531.79V534.74M393.65 531.39V534.74M394.81 534.39V536.34M395.97 538.97V540.14M397.13 538.48V539.94M398.29 539.47V540.84M399.45 533.19V535.64M400.61 533.49V536.14M401.77 528.69V532.55M402.93 535.28V538.44M404.09 539.37V540.64M405.25 532.49V535.84M406.41 534.68V537.14M407.57 531.59V535.34M408.73 534.29V537.14M409.89 531.99V534.84M411.05 537.48V538.44M412.21 539.97V541.83M413.37 535.58V537.14M414.53 537.18V538.54M415.69 531.09V535.14M416.85 533.59V536.04M418.01 532.09V535.44M419.16 536.38V537.14M420.32 539.67V540.94M421.48 534.88V538.14M422.64 534.29V536.14M423.8 529.49V533.24M424.96 534.39V537.14M426.12 530.99V535.24M427.28 536.58V537.34M428.44 539.57V540.84M429.6 536.68V538.44M430.76 536.68V537.94M431.92 532.89V535.34M433.08 534.29V536.34M434.24 532.19V534.94M435.4 537.18V538.54M436.56 538.38V539.14M437.72 535.08V537.04M438.88 535.28V536.74M440.04 532.39V535.84M441.2 532.99V535.94M442.36 534.09V536.84M443.52 537.28V538.34M444.68 539.17V540.84M445.84 534.29V537.14M446.99 537.58V539.24M448.15 531.09V534.74M449.31 532.49V536.44M450.47 529.59V533.24M451.63 534.88V536.64M452.79 536.48V537.24M453.95 528V532.15M455.11 528.89V532.95M456.27 522.2V528.45M457.43 524.9V530.25M458.59 525.4V530.05M459.75 531.39V535.04M460.91 535.58V536.64M462.07 530.19V533.24M463.23 518.41V526.85M464.39 517.71V526.36M465.55 516.11V525.36M466.71 516.61V527.25M467.87 524V530.65M469.03 527.5V532.85M470.19 532.89V536.14M471.35 521.8V529.25M472.51 518.71V527.25M473.66 516.91V525.66M474.82 511.32V521.06M475.98 521.7V527.15M477.14 528.29V533.74M478.3 525.9V531.15M479.46 517.31V525.56M480.62 513.42V521.56M481.78 517.41V525.06M482.94 511.62V522.86M484.1 525.4V530.75M485.26 527.3V532.55M486.42 527.2V532.45M487.58 514.72V526.06M488.74 515.81V525.06M489.9 511.22V521.26M491.06 509.82V521.16M492.22 518.01V525.96M493.38 527.3V532.45M494.54 516.71V527.45M495.7 508.53V518.77M496.86 499.94V513.97M498.02 507.03V518.67M499.18 504.83V516.47M500.34 514.02V522.96M501.49 522.3V528.55M502.65 514.32V524.16M503.81 503.93V514.07M504.97 493.15V508.38M506.13 492.05V510.38M507.29 493.55V509.48M508.45 505.03V516.17M509.61 517.91V526.46M510.77 496.44V514.47M511.93 492.85V510.58M513.09 466.59V493.91M514.25 501.64V514.87M515.41 497.04V511.38M516.57 500.84V513.97M517.73 491.65V508.78M518.89 471.68V499.1M520.05 455.71V484.92M521.21 405.59V447.08M522.37 414.97V462.06M523.53 419.07V462.85M524.69 459.5V489.21M525.85 481.47V506.29M527.01 491.35V503.49M528.16 468.69V497.3M529.32 460.6V488.71M530.48 447.12V478.03M531.64 452.11V484.32M532.8 461.7V488.51M533.96 486.26V505.79M535.12 485.76V506.09M536.28 485.76V504.09M537.44 477.77V499.7M538.6 491.25V511.08M539.76 494.15V507.39M540.92 497.74V510.48M542.08 516.11V525.66M543.24 495.65V511.58M544.4 498.44V510.38M545.56 500.34V511.98M546.72 504.53V516.07M547.88 509.82V519.67M549.04 516.41V526.16M550.2 530.09V534.54M551.36 521.7V528.05M552.52 517.31V524.76M553.68 513.22V521.96M554.84 520.41V528.75M555.99 520.01V527.85M557.15 528.99V532.05M558.31 532.49V535.64M559.47 527.4V531.85M560.63 524.3V528.85M561.79 526.1V530.95M562.95 533.39V535.64M564.11 531.79V533.24M565.27 528.99V532.45M566.43 533.99V534.94M567.59 531.59V534.14M568.75 529.69V533.64M569.91 528.99V532.05M571.07 529.79V534.54M572.23 532.69V535.24M573.39 531.19V533.44M574.55 536.68V538.74M575.71 535.28V536.24M576.87 534.98V535.64M578.03 528.89V533.74M579.19 534.39V535.94M580.35 530.39V534.24M581.51 530.09V533.24M582.66 538.78V539.54M583.82 532.99V536.24M584.98 529.29V532.15M586.14 531.89V534.34M587.3 531.59V534.64M588.46 530.59V533.54M589.62 532.89V534.94M590.78 538.28V539.44M591.94 529.89V533.94M593.1 528.49V532.95M594.26 528.79V532.65M595.42 531.19V533.54M596.58 529.89V534.14M597.74 533.29V536.64M598.9 537.08V538.44M600.06 531.19V534.14M601.22 525.3V531.25M602.38 528.59V532.95M603.54 529.89V534.24M604.7 528.99V533.44M605.86 531.29V533.54M607.02 533.89V536.94M608.18 526.9V531.05M609.34 524.1V530.45M610.49 524.1V531.25M611.65 523.7V527.95M612.81 523.2V529.25M613.97 527.9V532.95M615.13 532.89V535.74M616.29 525.7V532.55M617.45 524V529.45M618.61 520.41V525.86M619.77 518.51V525.66M620.93 519.21V525.16M622.09 524.7V528.15M623.25 530.09V533.34M624.41 522.5V529.55M625.57 514.22V523.26M626.73 514.02V521.86M627.89 515.12V522.56M629.05 512.62V522.66M630.21 520.31V527.25M631.37 526.1V530.15M632.53 516.11V523.96M633.69 510.52V519.27M634.85 503.03V514.97M636.01 506.13V516.17M637.16 500.44V513.78M638.32 512.62V521.26M639.48 521.9V526.95M640.64 503.63V517.07M641.8 496.24V509.78M642.96 493.45V508.78M644.12 499.94V510.78M645.28 495.65V510.58M646.44 508.92V519.87M647.6 518.81V526.46M648.76 496.54V512.48M649.92 489.36V508.08M651.08 488.56V503.79M652.24 504.93V516.77M653.4 482.17V503.19M654.56 493.55V508.28M655.72 503.13V514.87M656.88 509.92V518.87M658.04 506.73V516.57M659.2 508.23V518.27M660.36 490.95V504.99M661.52 484.96V505.19M662.68 485.66V505.99M663.84 510.02V520.46M664.99 488.76V506.19M666.15 489.56V507.88M667.31 488.56V502.09M668.47 493.75V513.68M669.63 500.64V514.37M670.79 513.72V522.96M671.95 517.41V524.96M673.11 500.74V511.98M674.27 499.94V513.18M675.43 495.05V510.58M676.59 503.03V514.67M677.75 509.72V519.67M678.91 509.12V519.17M680.07 524.8V530.65M681.23 513.72V521.96M682.39 497.74V510.38M683.55 504.33V517.57M684.71 508.73V519.57M685.87 509.82V518.77M687.03 515.51V522.56M688.19 527.5V531.15M689.35 516.81V524.06M690.51 513.92V521.46M691.66 515.31V526.16M692.82 515.41V524.96M693.98 516.81V524.76M695.14 523.2V528.05M696.3 531.49V535.04M697.46 521.01V527.05M698.62 518.71V527.45M699.78 515.71V524.16M700.94 517.11V525.46M702.1 513.32V522.16M703.26 525.7V529.25M704.42 531.99V533.94M705.58 521.8V528.95M706.74 514.02V521.56M707.9 517.41V524.66M709.06 516.21V523.96M710.22 519.61V525.86M711.38 524.2V529.85M712.54 530.09V533.24M713.7 516.41V524.86M714.86 505.03V518.07M716.02 508.92V520.46M717.18 505.83V517.47M718.34 508.92V518.27M719.49 519.41V526.16M720.65 523.9V528.65M721.81 513.82V522.96M722.97 503.33V516.67M724.13 499.64V514.37M725.29 501.24V513.28M726.45 495.15V510.18M727.61 509.22V517.17M728.77 522.5V528.45M729.93 506.83V516.87M731.09 485.46V502.59M732.25 484.46V501.69M733.41 491.15V505.69M734.57 478.47V499.3M735.73 499.54V515.57M736.89 511.12V520.96M738.05 490.05V504.49M739.21 467.59V489.81M740.37 453.51V475.04M741.53 462.1V482.72M742.69 456.81V481.63M743.85 473.88V491.11M745.01 493.85V507.49M746.16 452.81V483.62M747.32 423.76V464.25M748.48 418.37V452.37M749.64 454.41V480.33M750.8 470.68V492.61M751.96 423.56V460.66M753.12 449.32V477.63M754.28 355.26V412.73M755.44 334.3V398.46M756.6 279.98V367.3M757.76 311.13V372.5"/><path stroke="#3CF05A" d="M116.52 542.07V544.63M145.51 541.97V544.53M148.98 541.97V544.53M152.46 541.97V544.53M154.78 541.87V544.43M162.9 542.07V544.63M166.38 541.87V544.33M168.7 542.07V544.63M169.86 541.97V544.53M171.02 541.77V544.33M172.18 541.97V544.53M174.49 541.67V544.03M175.65 541.97V544.53M177.97 541.17V543.73M179.13 541.77V544.13M180.29 541.97V544.53M181.45 541.67V544.13M183.77 541.97V544.43M184.93 541.77V544.03M186.09 541.17V543.63M187.25 540.77V542.53M188.41 540.67V542.83M189.57 540.57V542.53M190.73 540.17V541.53M191.89 539.27V540.84M193.05 541.47V543.93M194.21 539.27V540.54M195.37 539.07V540.84M196.53 538.38V539.74M197.69 538.78V540.04M198.85 537.38V538.44M200.01 536.48V537.34M201.16 538.87V539.54M202.32 538.97V540.24M203.48 534.88V536.14M204.64 534.78V536.74M205.8 533.19V535.24M206.96 532.49V534.44M208.12 533.09V534.14M209.28 538.87V539.74M210.44 535.68V536.44M211.6 536.08V536.84M212.76 534.88V535.94M213.92 532.19V535.14M215.08 532.89V535.34M216.24 537.38V538.14M217.4 537.88V538.64M218.56 536.68V538.04M219.72 537.48V538.24M220.88 536.38V537.74M222.04 534.09V535.44M223.2 537.58V539.04M224.36 539.47V540.64M225.52 540.27V542.13M226.68 537.68V538.74M227.84 540.07V542.03M228.99 539.97V541.34M230.15 535.68V536.84M231.31 535.48V536.94M232.47 538.08V539.34M233.63 539.07V540.54M234.79 539.17V541.24M235.95 540.77V542.73M237.11 541.17V543.63M238.27 540.47V542.73M239.43 540.67V543.03M240.59 541.47V543.93M241.75 541.37V543.93M242.91 541.47V543.83M245.23 540.97V543.13M246.39 541.67V544.03M248.71 541.87V544.43M249.87 541.57V544.13M252.19 541.87V544.43M253.35 541.67V544.23M259.14 541.57V544.13M260.3 541.47V544.03M261.46 541.27V543.83M262.62 540.67V542.93M263.78 541.07V543.63M267.26 540.47V542.83M268.42 541.47V544.03M269.58 540.27V542.83M270.74 540.77V543.13M271.9 540.07V542.53M273.06 541.27V543.83M274.22 541.27V543.73M277.7 540.67V543.03M278.86 540.77V542.93M280.02 540.57V543.03M281.18 537.98V540.54M282.34 539.07V541.34M283.49 540.07V542.33M284.65 541.17V543.53M285.81 539.67V541.83M286.97 540.07V542.23M288.13 539.67V541.83M289.29 539.87V542.03M290.45 539.87V542.43M291.61 539.57V542.13M292.77 538.28V540.14M293.93 538.78V541.24M295.09 538.08V540.04M296.25 538.08V539.94M297.41 537.78V539.74M298.57 538.08V540.14M299.73 538.08V540.24M300.89 537.08V538.94M302.05 533.78V535.74M303.21 532.88V534.05M304.37 533.48V534.25M305.53 534.58V536.04M306.69 534.88V536.34M307.85 534.48V535.64M309.01 536.68V538.54M310.16 524.5V525.66M311.32 523.7V525.96M312.48 526.7V528.45M313.64 527.39V528.16M314.8 533.38V534.45M315.96 531.19V532.45M317.12 530.79V531.85M318.28 519.71V521.56M319.44 519.81V520.56M320.6 520.31V522.46M321.76 529.09V530.15M322.92 529.29V530.65M324.08 525.4V526.46M325.24 523.8V525.86M326.4 515.91V518.47M327.56 523.4V525.86M328.72 520.41V522.06M329.88 525.2V526.95M331.04 532.98V534.25M332.2 522.3V524.46M333.36 525.6V526.85M334.52 514.62V519.17M335.68 507.03V510.88M336.84 507.13V514.57M337.99 521.11V523.76M339.15 522.4V524.16M340.31 519.31V521.56M341.47 524.2V527.15M342.63 516.71V520.36M343.79 509.22V513.97M344.95 511.12V516.37M346.11 519.01V522.16M347.27 528.09V529.85M348.43 529.59V530.95M349.59 526V527.65M350.75 527.8V529.95M351.91 513.72V517.67M353.07 516.11V519.47M354.23 525.4V528.05M355.39 531.49V533.24M356.55 528.89V531.05M357.71 529.69V531.45M358.87 517.91V521.86M360.03 524.1V526.46M361.19 523.1V524.96M362.35 527.8V529.95M363.51 535.98V537.14M364.66 530.79V531.95M365.82 526V528.55M366.98 525.6V527.15M368.14 526.7V529.15M369.3 525.4V528.25M370.46 532.39V533.05M371.62 535.68V536.74M372.78 531.49V532.55M373.94 532.39V534.04M375.1 529.89V531.25M376.26 533.59V534.54M377.42 530.39V532.05M378.58 535.78V536.84M379.74 537.98V539.34M380.9 531.19V532.55M382.06 534.39V536.04M383.22 524.6V527.65M384.38 530.49V531.45M385.54 528.19V530.85M386.7 534.18V535.14M387.86 538.08V539.44M389.02 531.89V533.54M390.18 531.69V533.14M391.34 532.39V533.14M392.49 528V530.45M393.65 527.3V530.05M394.81 532.39V533.55M395.97 537.48V538.74M397.13 537.28V538.64M398.29 538.18V540.54M399.45 529.99V531.85M400.61 529.89V532.15M401.77 525.8V527.35M402.93 533.09V533.94M404.09 537.98V539.54M405.25 529.69V531.15M406.41 531.19V533.34M407.57 528.39V530.25M408.73 531.59V532.95M409.89 529.09V530.65M411.05 535.48V536.24M412.21 539.17V540.54M413.37 531.19V534.24M414.53 535.18V536.14M415.69 527.1V529.75M416.85 528.39V532.25M418.01 526.5V530.75M419.16 533.79V535.04M420.32 538.28V539.64M421.48 532.69V533.54M422.64 531.49V532.95M423.8 525V528.15M424.96 530.99V533.05M426.12 527.7V529.65M427.28 534.58V535.34M428.44 538.18V539.14M429.6 533.99V535.34M430.76 533.29V535.34M431.92 529.89V531.55M433.08 532.09V532.95M434.24 529.49V530.85M435.4 535.08V535.84M436.56 536.38V537.24M437.72 533.08V534.25M438.88 532.89V533.94M440.04 528V531.05M441.2 529.59V531.65M442.36 528.49V532.75M443.52 535.48V536.34M444.68 538.18V539.14M445.84 530.09V532.95M446.99 535.38V536.24M448.15 526.2V529.75M449.31 527.2V531.15M450.47 523.9V528.25M451.63 532.39V533.54M452.79 533.49V535.14M453.95 523.2V526.66M455.11 524.3V527.55M456.27 515.81V520.86M457.43 519.51V523.56M458.59 520.81V524.06M459.75 527V530.05M460.91 531.99V534.24M462.07 525.2V528.85M463.23 511.22V517.07M464.39 509.52V516.37M465.55 508.63V514.77M466.71 508.13V515.27M467.87 516.91V522.66M469.03 522.4V526.16M470.19 530.39V531.55M471.35 516.21V520.46M472.51 510.32V517.37M473.66 504.93V515.57M474.82 503.63V509.98M475.98 514.52V520.36M477.14 523.1V526.95M478.3 520.21V524.56M479.46 508.73V515.97M480.62 505.53V512.08M481.78 510.32V516.07M482.94 500.94V510.28M484.1 520.61V524.06M485.26 521.8V525.96M486.42 522.3V525.86M487.58 505.03V513.38M488.74 504.73V514.47M489.9 500.84V509.88M491.06 500.54V508.48M492.22 509.52V516.67M493.38 522.8V525.96M494.54 508.83V515.37M495.7 496.94V507.19M496.86 485.86V498.6M498.02 496.34V505.69M499.18 494.65V503.49M500.34 502.53V512.68M501.49 515.51V520.96M502.65 504.53V512.98M503.81 489.85V502.59M504.97 478.07V491.81M506.13 478.67V490.71M507.29 476.78V492.21M508.45 494.35V503.69M509.61 508.73V516.57M510.77 480.37V495.1M511.93 475.68V491.51M513.09 444.83V465.25M514.25 487.66V500.3M515.41 484.76V495.7M516.57 486.96V499.5M517.73 478.07V490.31M518.89 452.11V470.34M520.05 430.55V454.37M521.21 372.44V404.25M522.37 376.23V413.63M523.53 384.12V417.73M524.69 438.24V458.16M525.85 462.4V480.13M527.01 473.78V490.01M528.16 445.82V467.35M529.32 437.64V459.26M530.48 420.66V445.78M531.64 428.65V450.77M532.8 438.14V460.36M533.96 469.19V484.92M535.12 464.59V484.42M536.28 463.8V484.42M537.44 458.5V476.43M538.6 472.08V489.91M539.76 479.57V492.81M540.92 481.27V496.4M542.08 505.13V514.77M543.24 483.17V494.31M544.4 482.87V497.1M545.56 483.46V499M546.72 493.75V503.19M547.88 498.64V508.48M549.04 508.23V515.07M550.2 523.3V528.75M551.36 514.92V520.36M552.52 507.13V515.97M553.68 503.03V511.88M554.84 511.72V519.07M555.99 509.42V518.67M557.15 523.5V527.65M558.31 530.19V531.15M559.47 521.41V526.06M560.63 517.81V522.96M561.79 520.01V524.76M562.95 527.8V532.05M564.11 526.3V530.45M565.27 524V527.65M566.43 530.29V532.65M567.59 527.2V530.25M568.75 524.8V528.35M569.91 520.71V527.65M571.07 525.7V528.45M572.23 526.8V531.35M573.39 527.6V529.85M574.55 534.68V536.04M575.71 530.49V533.94M576.87 532.69V533.64M578.03 525.1V527.55M579.19 531.29V533.05M580.35 525.5V529.05M581.51 525.8V528.75M582.66 536.78V537.54M583.82 529.79V531.65M584.98 525V527.95M586.14 528.19V530.55M587.3 528.49V530.25M588.46 525.7V529.25M589.62 529.39V531.55M590.78 536.78V537.44M591.94 526V528.55M593.1 524.5V527.15M594.26 525V527.45M595.42 526.4V529.85M596.58 524.3V528.55M597.74 529.39V531.95M598.9 534.68V535.74M600.06 526V529.85M601.22 519.21V523.96M602.38 525.2V527.25M603.54 525.4V528.55M604.7 522.6V527.65M605.86 527.9V529.95M607.02 531.49V532.55M608.18 522.2V525.56M609.34 518.11V522.76M610.49 518.81V522.76M611.65 518.21V522.36M612.81 516.21V521.86M613.97 523V526.56M615.13 529.39V531.55M616.29 520.11V524.36M617.45 517.11V522.66M618.61 512.92V519.07M619.77 513.22V517.17M620.93 513.52V517.87M622.09 520.61V523.36M623.25 525.7V528.75M624.41 516.31V521.16M625.57 505.93V512.88M626.73 505.53V512.68M627.89 505.43V513.78M629.05 503.93V511.28M630.21 513.62V518.97M631.37 521.41V524.76M632.53 508.92V514.77M633.69 501.44V509.18M634.85 488.96V501.69M636.01 496.34V504.79M637.16 485.96V499.1M638.32 505.63V511.28M639.48 514.82V520.56M640.64 491.85V502.29M641.8 484.36V494.9M642.96 480.37V492.11M644.12 487.66V498.6M645.28 479.27V494.31M646.44 497.54V507.58M647.6 512.62V517.47M648.76 482.97V495.2M649.92 472.98V488.02M651.08 469.39V487.22M652.24 493.35V503.59M653.4 465.69V480.83M654.56 479.87V492.21M655.72 490.55V501.79M656.88 499.64V508.58M658.04 497.44V505.39M659.2 498.84V506.89M660.36 474.78V489.61M661.52 462.3V483.62M662.68 468.89V484.32M663.84 502.63V508.68M664.99 474.38V487.42M666.15 472.88V488.22M667.31 470.68V487.22M668.47 482.37V492.41M669.63 490.25V499.3M670.79 504.53V512.38M671.95 512.32V516.07M673.11 488.96V499.4M674.27 486.26V498.6M675.43 480.57V493.71M676.59 493.65V501.69M677.75 499.14V508.38M678.91 502.44V507.78M680.07 518.51V523.46M681.23 504.53V512.38M682.39 487.86V496.4M683.55 492.95V502.99M684.71 497.14V507.39M685.87 501.54V508.48M687.03 508.83V514.17M688.19 523.2V526.16M689.35 509.02V515.47M690.51 506.63V512.58M691.66 506.03V513.97M692.82 506.83V514.07M693.98 510.62V515.47M695.14 517.11V521.86M696.3 526V530.15M697.46 515.81V519.67M698.62 509.72V517.37M699.78 510.62V514.37M700.94 510.52V515.77M702.1 506.83V511.98M703.26 519.91V524.36M704.42 528.99V530.65M705.58 516.91V520.46M706.74 506.33V512.68M707.9 509.12V516.07M709.06 509.42V514.87M710.22 512.82V518.27M711.38 515.31V522.86M712.54 525.5V528.75M713.7 508.63V515.07M714.86 496.54V503.69M716.02 498.24V507.58M717.18 497.34V504.49M718.34 501.64V507.58M719.49 513.02V518.07M720.65 518.01V522.56M721.81 507.03V512.48M722.97 486.66V501.99M724.13 488.06V498.3M725.29 491.35V499.9M726.45 485.46V493.81M727.61 499.84V507.88M728.77 517.01V521.16M729.93 494.75V505.49M731.09 471.08V484.12M732.25 470.68V483.12M733.41 475.58V489.81M734.57 464.79V477.13M735.73 491.65V498.2M736.89 502.44V509.78M738.05 475.18V488.71M739.21 449.72V466.25M740.37 434.74V452.17M741.53 440.13V460.76M742.69 430.65V455.47M743.85 457.51V472.54M745.01 483.27V492.51M746.16 426.45V451.47M747.32 390.11V422.42M748.48 386.12V417.03M749.64 433.64V453.07M750.8 447.92V469.34M751.96 399.3V422.22M753.12 427.15V447.98M754.28 312.23V353.92M755.44 283.58V332.96M756.6 223.27V278.64M757.76 266V309.79"/><path stroke="#3CE8A8" d="M140.87 542.07V544.63M142.03 541.67V544.23M162.9 541.97V544.53M164.06 541.67V544.23M165.22 541.97V544.33M171.02 541.67V544.23M174.49 541.37V543.93M179.13 541.47V544.03M180.29 541.87V544.33M181.45 541.47V543.83M182.61 541.67V544.23M184.93 541.37V543.63M186.09 540.97V543.43M187.25 539.87V541.63M188.41 540.17V542.13M189.57 539.87V541.63M190.73 538.87V540.84M191.89 538.18V539.64M193.05 541.27V543.73M194.21 537.88V538.74M195.37 538.18V538.84M196.53 537.08V538.24M197.69 537.38V538.44M198.85 535.08V536.44M200.01 534.48V535.44M201.16 536.88V537.84M202.32 537.58V538.74M203.48 532.09V533.54M204.64 531.39V533.44M205.8 529.49V531.85M206.96 528.69V531.15M208.12 530.99V531.75M209.28 537.08V538.04M210.44 532.19V534.34M211.6 534.18V534.95M212.76 532.69V533.54M213.92 529.39V530.85M215.08 530.89V531.55M216.24 535.48V536.44M217.4 535.98V536.94M218.56 534.68V535.64M219.72 535.48V536.44M220.88 535.08V536.34M222.04 531.19V532.75M223.2 535.58V536.44M224.36 537.98V539.04M225.52 539.47V541.73M226.68 536.08V537.34M227.84 539.37V541.44M228.99 538.68V540.84M230.15 532.59V534.34M231.31 533.39V534.14M232.47 536.68V537.84M233.63 537.88V539.44M234.79 538.58V540.54M235.95 540.07V542.03M237.11 540.97V543.43M238.27 540.07V542.23M239.43 540.37V542.53M240.59 541.27V543.23M241.75 541.27V543.63M242.91 541.17V543.33M245.23 540.47V542.83M247.55 541.27V543.73M253.35 541.57V544.13M255.66 541.97V544.53M256.82 541.27V543.83M259.14 541.47V544.03M260.3 541.37V543.93M261.46 541.17V543.53M262.62 540.27V542.83M263.78 540.97V543.43M266.1 541.07V543.63M267.26 540.17V542.23M268.42 541.37V543.93M269.58 540.17V542.63M270.74 540.47V543.03M271.9 539.87V542.43M273.06 541.17V543.73M274.22 541.07V543.53M275.38 541.27V543.83M276.54 540.87V543.33M277.7 540.37V542.73M278.86 540.27V542.63M280.02 540.37V542.63M281.18 537.88V540.24M282.34 538.68V540.54M283.49 539.67V542.13M284.65 540.87V543.43M285.81 539.17V541.24M286.97 539.57V541.83M288.13 539.17V541.44M289.29 539.37V541.73M290.45 539.77V541.83M291.61 539.47V541.93M292.77 537.48V539.84M293.93 538.58V540.34M295.09 537.38V539.74M296.25 537.28V539.24M297.41 537.08V539.64M298.57 537.48V539.24M299.73 537.58V539.54M300.89 536.28V538.74M302.05 533.08V534.85M303.21 531.39V533.35M304.37 531.59V532.85M305.53 533.38V534.65M306.69 533.68V535.24M307.85 532.98V534.95M309.01 535.88V538.04M310.16 523V523.86M311.32 521.7V522.46M312.48 524.7V525.96M313.64 525.4V526.16M314.8 531.79V533.75M315.96 529.79V531.75M317.12 528.79V530.25M318.28 517.71V518.57M319.44 517.81V518.57M320.6 517.51V518.97M321.76 527.09V527.76M322.92 527.29V529.15M324.08 522.7V524.06M325.24 521.8V522.66M326.4 510.82V514.57M327.56 520.71V522.06M328.72 517.71V519.07M329.88 523.2V524.26M331.04 531.59V532.95M332.2 519.41V520.96M333.36 522.1V524.26M334.52 511.72V513.28M335.68 503.43V505.69M336.84 502.83V505.79M337.99 517.41V519.77M339.15 520.4V521.07M340.31 516.61V517.97M341.47 521.21V522.86M342.63 512.52V515.37M343.79 503.93V507.88M344.95 506.03V509.78M346.11 515.81V517.67M347.27 526.09V526.76M348.43 527.59V528.75M349.59 524V524.66M350.75 525.5V526.46M351.91 508.92V512.38M353.07 510.72V514.77M354.23 522.2V524.06M355.39 529.49V530.35M356.55 526.5V527.55M357.71 526.9V528.35M358.87 514.52V516.57M360.03 521.21V522.76M361.19 521.1V522.07M362.35 525.8V526.76M363.51 534.48V536.54M364.66 528.39V529.45M365.82 523.5V524.66M366.98 522.2V524.26M368.14 524.4V525.36M369.3 522.4V524.06M370.46 530.39V531.35M371.62 534.08V535.74M372.78 529.89V530.65M373.94 530.39V532.05M375.1 527.3V528.55M376.26 531.59V532.95M377.42 528.29V529.05M378.58 534.18V535.34M379.74 536.68V538.64M380.9 529.19V529.85M382.06 531.39V533.05M383.22 521.61V523.26M384.38 528.49V529.15M385.54 526V526.85M386.7 532.48V533.15M387.86 536.78V538.24M389.02 529.09V530.55M390.18 529.69V530.45M391.34 530.29V531.05M392.49 525.5V526.66M393.65 524.8V525.96M394.81 530.59V531.55M395.97 536.08V537.24M397.13 535.98V537.64M398.29 537.88V539.84M399.45 527.99V528.66M400.61 527.8V528.55M401.77 521.7V524.46M402.93 531.09V532.35M404.09 536.88V538.54M405.25 527.2V528.35M406.41 528.99V529.85M407.57 524.6V527.05M408.73 529.59V530.55M409.89 526.7V527.75M411.05 533.58V535.14M412.21 537.88V539.54M413.37 528.59V529.85M414.53 533.29V534.14M415.69 524V525.76M416.85 526.39V527.36M418.01 523.6V525.16M419.16 531.49V532.45M420.32 536.98V538.24M421.48 529.79V531.35M422.64 529.49V530.85M423.8 520.91V523.66M424.96 528.99V529.85M426.12 525.4V526.36M427.28 532.68V534.15M428.44 536.48V537.64M429.6 531.99V532.65M430.76 531.29V531.95M431.92 527.89V528.85M433.08 528.89V530.75M434.24 527.1V528.15M435.4 533.08V534.75M436.56 534.58V536.04M437.72 531.59V532.25M438.88 529.89V531.55M440.04 525.1V526.66M441.2 527.2V528.25M442.36 526.2V527.15M443.52 533.48V535.05M444.68 536.48V537.34M445.84 526.9V528.75M446.99 533.38V534.45M448.15 523.6V524.86M449.31 523.5V525.86M450.47 520.21V522.56M451.63 529.09V531.05M452.79 531.29V532.15M453.95 519.51V521.86M455.11 519.71V522.96M456.27 511.02V514.47M457.43 513.52V518.17M458.59 515.81V519.47M459.75 523.5V525.66M460.91 529.89V530.65M462.07 521.21V523.86M463.23 503.03V509.88M464.39 501.44V508.18M465.55 500.84V507.29M466.71 499.64V506.79M467.87 510.82V515.57M469.03 518.41V521.06M470.19 527.9V529.05M471.35 510.62V514.87M472.51 504.43V508.98M473.66 497.04V503.59M474.82 496.34V502.29M475.98 509.72V513.18M477.14 517.61V521.76M478.3 514.22V518.87M479.46 502.24V507.39M480.62 498.54V504.19M481.78 504.73V508.98M482.94 494.55V499.6M484.1 516.21V519.27M485.26 518.11V520.46M486.42 516.11V520.96M487.58 496.84V503.69M488.74 494.95V503.39M489.9 493.45V499.5M491.06 490.85V499.2M492.22 502.14V508.18M493.38 517.81V521.46M494.54 504.13V507.49M495.7 486.06V495.6M496.86 473.38V484.52M498.02 486.46V495M499.18 481.47V493.31M500.34 495.55V501.19M501.49 510.22V514.17M502.65 494.65V503.19M503.81 480.27V488.51M504.97 467.29V476.73M506.13 467.99V477.33M507.29 461.7V475.44M508.45 485.76V493.01M509.61 501.04V507.39M510.77 469.69V479.03M511.93 462.7V474.34M513.09 427.65V443.49M514.25 476.08V486.32M515.41 473.78V483.42M516.57 474.98V485.62M517.73 464.89V476.73M518.89 431.45V450.77M520.05 406.88V429.21M521.21 335.1V371.1M522.37 340.19V374.89M523.53 354.77V382.78M524.69 418.97V436.9M525.85 442.53V461.06M527.01 461.2V472.44M528.16 425.16V444.48M529.32 417.37V436.3M530.48 388.51V419.32M531.64 401.09V427.31M532.8 417.17V436.8M533.96 449.32V467.85M535.12 446.92V463.25M536.28 446.12V462.46M537.44 435.04V457.16M538.6 454.41V470.74M539.76 462.7V478.23M540.92 469.59V479.93M542.08 498.44V503.79M543.24 470.88V481.83M544.4 472.68V481.53M545.56 469.79V482.12M546.72 482.47V492.41M547.88 488.06V497.3M549.04 500.14V506.89M550.2 517.61V521.96M551.36 507.93V513.58M552.52 496.14V505.79M553.68 494.25V501.69M554.84 503.63V510.38M555.99 501.04V508.08M557.15 517.11V522.16M558.31 526.6V528.85M559.47 516.11V520.07M560.63 512.52V516.47M561.79 515.31V518.67M562.95 523.5V526.46M564.11 519.51V524.96M565.27 520.41V522.66M566.43 527.7V528.95M567.59 522.4V525.86M568.75 518.71V523.46M569.91 515.71V519.37M571.07 520.61V524.36M572.23 522.7V525.46M573.39 524.6V526.26M574.55 532.79V534.04M575.71 526.6V529.15M576.87 529.59V531.35M578.03 520.21V523.76M579.19 527.3V529.95M580.35 521.9V524.16M581.51 521.31V524.46M582.66 534.78V536.04M583.82 527.79V528.46M584.98 520.81V523.66M586.14 524.5V526.85M587.3 523.4V527.15M588.46 521.8V524.36M589.62 526.3V528.05M590.78 534.78V536.34M591.94 522.2V524.66M593.1 520.21V523.16M594.26 519.91V523.66M595.42 522.6V525.06M596.58 520.01V522.96M597.74 525.9V528.05M598.9 532.09V533.34M600.06 521.9V524.66M601.22 513.62V517.87M602.38 521.11V523.86M603.54 521.9V524.06M604.7 517.51V521.26M605.86 524.8V526.56M607.02 528.99V530.15M608.18 517.51V520.86M609.34 511.42V516.77M610.49 513.42V517.47M611.65 514.62V516.87M612.81 511.12V514.87M613.97 519.01V521.66M615.13 526.9V528.05M616.29 514.92V518.77M617.45 511.92V515.77M618.61 505.63V511.58M619.77 508.83V511.88M620.93 508.83V512.18M622.09 515.22V519.27M623.25 522.7V524.36M624.41 512.12V514.97M625.57 498.24V504.59M626.73 498.74V504.19M627.89 498.94V504.09M629.05 496.34V502.59M630.21 508.63V512.28M631.37 518.51V520.07M632.53 500.84V507.58M633.69 493.25V500.1M634.85 479.97V487.62M636.01 487.56V495M637.16 478.17V484.62M638.32 497.24V504.29M639.48 509.52V513.48M640.64 483.27V490.51M641.8 471.68V483.02M642.96 469.29V479.03M644.12 477.87V486.32M645.28 467.59V477.93M646.44 489.75V496.2M647.6 507.13V511.28M648.76 470.88V481.63M649.92 462.2V471.64M651.08 456.81V468.05M652.24 484.06V492.01M653.4 449.72V464.35M654.56 467.39V478.53M655.72 481.37V489.21M656.88 491.55V498.3M658.04 489.06V496.1M659.2 492.25V497.5M660.36 465.19V473.44M661.52 448.42V460.96M662.68 457.41V467.55M663.84 494.65V501.29M664.99 461.6V473.04M666.15 459.7V471.54M667.31 457.21V469.34M668.47 469.79V481.03M669.63 480.07V488.91M670.79 497.74V503.19M671.95 507.23V510.98M673.11 479.37V487.62M674.27 478.07V484.92M675.43 470.98V479.23M676.59 486.06V492.31M677.75 490.95V497.8M678.91 495.95V501.1M680.07 514.52V517.17M681.23 495.75V503.19M682.39 478.17V486.52M683.55 483.46V491.61M684.71 489.75V495.8M685.87 495.45V500.2M687.03 504.73V507.49M688.19 520.81V521.86M689.35 503.53V507.68M690.51 501.64V505.29M691.66 500.14V504.69M692.82 502.14V505.49M693.98 504.93V509.28M695.14 512.52V515.77M696.3 523.2V524.66M697.46 511.32V514.47M698.62 505.23V508.38M699.78 504.53V509.28M700.94 506.03V509.18M702.1 502.14V505.49M703.26 515.81V518.57M704.42 525.6V527.65M705.58 514.42V515.57M706.74 499.54V504.99M707.9 502.93V507.78M709.06 503.03V508.08M710.22 508.92V511.48M711.38 509.82V513.97M712.54 523.1V524.16M713.7 504.43V507.29M714.86 488.66V495.2M716.02 490.95V496.9M717.18 492.15V496M718.34 494.55V500.3M719.49 508.43V511.68M720.65 514.82V516.67M721.81 501.04V505.69M722.97 477.97V485.32M724.13 481.67V486.72M725.29 484.06V490.01M726.45 477.17V484.12M727.61 495.05V498.5M728.77 512.32V515.67M729.93 488.96V493.41M731.09 459V469.74M732.25 460.4V469.34M733.41 467.39V474.24M734.57 454.71V463.45M735.73 486.16V490.31M736.89 496.54V501.1M738.05 466.49V473.84M739.21 437.74V448.38M740.37 421.86V433.4M741.53 425.06V438.79M742.69 411.88V429.31M743.85 448.52V456.17M745.01 475.28V481.93M746.16 414.17V425.11M747.32 369.34V388.77M748.48 358.56V384.78M749.64 415.37V432.3M750.8 436.84V446.58M751.96 377.93V397.96M753.12 409.08V425.81M754.28 276.49V310.89M755.44 245.24V282.24M756.6 178.04V221.93M757.76 229.56V264.66"/><path stroke="#3CC8DC" d="M139.71 542.07V544.63M143.19 541.97V544.53M150.14 542.07V544.63M158.26 542.07V544.63M159.42 541.97V544.53M162.9 541.87V544.43M164.06 541.57V544.13M165.22 541.67V544.23M166.38 541.67V544.23M168.7 541.97V544.43M171.02 541.57V544.13M174.49 541.27V543.73M177.97 541.07V543.53M180.29 541.67V544.13M184.93 540.97V543.53M186.09 540.77V543.13M187.25 538.97V541.24M188.41 539.47V541.53M189.57 538.97V541.24M190.73 538.18V540.04M191.89 536.98V538.94M193.05 541.07V543.43M194.21 536.08V538.04M195.37 536.18V538.24M196.53 535.58V537.24M197.69 535.78V537.64M198.85 533.08V534.45M200.01 532.78V533.95M201.16 535.18V537.24M202.32 536.08V537.74M203.48 530.09V530.85M204.64 529.09V530.05M205.8 527.1V528.15M206.96 526.69V527.96M208.12 528.99V530.05M209.28 535.38V536.54M210.44 530.19V531.25M211.6 532.29V534.15M212.76 530.69V532.25M213.92 527.39V528.26M215.08 528.89V529.65M216.24 533.78V535.74M217.4 534.28V535.84M218.56 532.98V534.05M219.72 533.78V535.24M220.88 533.68V535.14M222.04 529.19V530.45M223.2 533.78V535.14M224.36 536.38V538.14M225.52 539.07V541.34M226.68 534.68V536.04M227.84 538.78V541.04M228.99 538.18V539.74M230.15 530.59V531.55M231.31 531.39V532.65M232.47 535.18V536.54M233.63 536.78V538.14M234.79 537.88V539.94M235.95 539.37V541.63M237.11 540.77V542.93M238.27 539.57V541.93M239.43 539.87V542.23M240.59 540.57V543.03M242.91 540.67V543.13M244.07 541.77V544.23M245.23 540.17V542.43M246.39 541.37V543.93M249.87 541.47V544.03M251.03 541.97V544.43M252.19 541.77V544.33M253.35 541.47V544.03M254.51 541.97V544.53M257.98 541.67V544.23M260.3 541.27V543.73M262.62 540.17V542.63M264.94 541.77V544.33M267.26 539.57V541.73M268.42 541.27V543.63M269.58 539.97V542.53M270.74 540.37V542.83M271.9 539.77V542.33M275.38 541.17V543.63M276.54 540.67V543.23M280.02 539.97V542.53M282.34 537.88V540.24M284.65 540.77V543.23M285.81 538.58V541.04M286.97 539.17V541.53M288.13 538.78V541.24M289.29 539.07V541.63M292.77 537.18V539.54M293.93 537.68V540.14M295.09 537.08V539.54M297.41 536.98V539.44M298.57 536.58V539.14M299.73 536.88V539.44M300.89 536.08V538.54M302.05 532.19V534.55M303.21 530.69V533.05M304.37 530.19V532.55M305.53 531.99V534.25M306.69 532.58V535.05M307.85 532.29V534.55M309.01 535.38V537.74M310.16 521.2V523.16M311.32 519.8V521.57M312.48 523.3V525.36M313.64 523.4V525.26M314.8 531.09V533.45M315.96 529.09V531.15M317.12 527.59V529.55M318.28 515.91V517.27M319.44 515.91V517.37M320.6 515.51V517.27M321.76 525.1V526.76M322.92 526.49V528.95M324.08 520.7V521.87M325.24 520V521.97M326.4 508.82V509.78M327.56 518.71V519.97M328.72 515.71V516.87M329.88 521.6V522.96M331.04 530.29V532.65M332.2 517.41V519.27M333.36 520.1V521.57M334.52 509.72V510.58M335.68 501.04V502.09M336.84 499.94V501.49M337.99 515.41V516.77M339.15 518.41V520.57M340.31 514.61V515.97M341.47 519.21V520.67M342.63 510.52V511.58M343.79 501.24V502.59M344.95 504.03V504.99M346.11 513.81V514.58M347.27 524.1V526.56M348.43 526.09V527.56M349.59 522V523.86M350.75 523.5V525.26M351.91 506.92V508.09M353.07 508.72V509.49M354.23 520.2V521.37M355.39 527.69V529.45M356.55 524.5V525.66M357.71 524.9V527.06M358.87 512.52V513.38M360.03 519.21V520.47M361.19 519.41V520.87M362.35 524.1V525.46M363.51 533.88V536.14M364.66 526.39V527.86M365.82 521.5V522.86M366.98 520.2V521.87M368.14 522.4V524.26M369.3 520.4V522.27M370.46 528.69V530.65M371.62 533.08V535.14M372.78 527.99V529.25M373.94 529.39V531.65M375.1 525.3V525.96M376.26 530.29V532.15M377.42 526.29V528.06M378.58 532.68V534.55M379.74 535.98V538.14M380.9 527.19V528.85M382.06 529.39V531.15M383.22 518.91V520.27M384.38 526.49V528.36M385.54 524V525.26M386.7 530.49V532.15M387.86 535.58V537.94M389.02 527.09V528.66M390.18 527.79V529.65M391.34 528.29V529.45M392.49 523.5V524.86M393.65 522.8V524.66M394.81 528.59V530.45M395.97 534.58V536.44M397.13 534.98V537.34M398.29 537.18V539.64M399.45 526V526.96M400.61 525.8V527.06M401.77 519.7V520.77M402.93 529.69V531.75M404.09 535.88V538.04M405.25 525.2V526.36M406.41 526.99V527.66M407.57 522.6V523.56M408.73 527.89V528.66M409.89 524.7V526.36M411.05 532.48V534.55M412.21 536.88V539.34M413.37 526.59V528.66M414.53 531.29V532.45M415.69 521.7V522.66M416.85 524.7V526.56M418.01 521.6V522.66M419.16 529.49V531.45M420.32 535.58V537.74M421.48 527.79V530.15M422.64 528.19V529.15M423.8 518.61V519.57M424.96 527.19V528.46M426.12 523.4V524.36M427.28 531.49V532.95M428.44 534.98V537.14M429.6 529.99V532.05M430.76 529.29V530.45M431.92 526.19V527.96M433.08 526.89V528.16M434.24 525.1V526.16M435.4 532.09V533.75M436.56 533.38V535.34M437.72 529.59V530.75M438.88 527.89V529.45M440.04 523.1V524.56M441.2 525.2V526.56M442.36 524.2V525.06M443.52 532.39V534.25M444.68 534.68V536.64M445.84 524.9V526.66M446.99 531.79V533.75M448.15 520.81V522.26M449.31 521.5V522.66M450.47 517.11V518.87M451.63 527.09V528.95M452.79 529.29V530.85M453.95 517.41V518.17M455.11 517.01V518.37M456.27 508.92V509.68M457.43 510.42V512.18M458.59 512.32V514.47M459.75 521.5V522.17M460.91 527.89V528.56M462.07 518.11V519.87M463.23 499.74V501.69M464.39 497.14V500.1M465.55 496.64V499.5M466.71 496.34V498.3M467.87 508.82V509.58M469.03 516.01V517.07M470.19 525.9V527.56M471.35 507.73V509.28M472.51 500.74V503.09M473.66 492.95V495.7M474.82 493.65V495M475.98 506.03V508.38M477.14 515.41V516.27M478.3 512.02V512.88M479.46 498.64V500.9M480.62 494.95V497.2M481.78 502.44V503.39M482.94 490.35V493.21M484.1 514.21V515.28M485.26 516.11V517.27M486.42 511.92V514.77M487.58 493.25V495.5M488.74 490.85V493.61M489.9 490.15V492.11M491.06 487.56V489.51M492.22 499.94V500.8M493.38 515.71V516.47M494.54 502.13V502.9M495.7 481.67V484.72M496.86 468.59V472.04M498.02 482.67V485.12M499.18 476.28V480.13M500.34 492.85V494.21M501.49 508.22V509.09M502.65 491.55V493.31M503.81 475.78V478.93M504.97 461.9V465.95M506.13 463V466.65M507.29 456.61V460.36M508.45 479.77V484.42M509.61 499.04V499.7M510.77 464.99V468.35M511.93 456.31V461.36M513.09 421.76V426.31M514.25 470.98V474.74M515.41 468.49V472.44M516.57 469.79V473.64M517.73 460V463.55M518.89 425.56V430.11M520.05 396.9V405.54M521.21 321.02V333.76M522.37 326.01V338.85M523.53 334.9V353.43M524.69 410.68V417.63M525.85 435.34V441.19M527.01 451.91V459.86M528.16 415.27V423.82M529.32 408.18V416.03M530.48 367.75V387.17M531.64 386.42V399.75M532.8 405.89V415.83M533.96 441.63V447.98M535.12 437.74V445.58M536.28 436.54V444.78M537.44 422.26V433.7M538.6 444.63V453.07M539.76 454.41V461.36M540.92 461.3V468.25M542.08 494.05V497.1M543.24 459.7V469.54M544.4 465.59V471.34M545.56 459.3V468.45M546.72 475.68V481.13M547.88 482.77V486.72M549.04 496.34V498.8M550.2 513.72V516.27M551.36 500.74V506.59M552.52 491.15V494.8M553.68 486.46V492.91M554.84 499.44V502.29M555.99 495.65V499.7M557.15 512.12V515.77M558.31 523.6V525.26M559.47 512.42V514.77M560.63 508.33V511.18M561.79 511.82V513.97M562.95 520.01V522.16M564.11 517.21V518.17M565.27 516.91V519.07M566.43 525.7V526.76M567.59 519.01V521.06M568.75 515.12V517.37M569.91 511.42V514.37M571.07 517.51V519.27M572.23 519.71V521.36M573.39 521.8V523.26M574.55 530.79V531.45M575.71 523.7V525.26M576.87 527.5V528.25M578.03 516.91V518.87M579.19 524.3V525.96M580.35 518.91V520.56M581.51 518.41V519.97M582.66 533.38V534.75M583.82 525.8V526.66M584.98 518.61V519.47M586.14 522.2V523.16M587.3 519.51V522.06M588.46 519.8V521.07M589.62 524.3V525.56M590.78 533.68V535.64M591.94 520.2V521.07M593.1 517.21V518.87M594.26 516.81V518.57M595.42 519.11V521.26M596.58 516.91V518.67M597.74 523.7V524.56M598.9 530.09V531.25M600.06 518.21V520.56M601.22 511.32V512.28M602.38 519.01V519.77M603.54 519.9V520.57M604.7 515.02V516.17M605.86 522.8V523.76M607.02 526.99V528.36M608.18 514.62V516.17M609.34 507.73V510.08M610.49 510.32V512.08M611.65 511.62V513.28M612.81 508.33V509.78M613.97 517.01V518.27M615.13 524.3V525.56M616.29 512.02V513.58M617.45 507.93V510.58M618.61 501.84V504.29M619.77 505.03V507.49M620.93 505.23V507.49M622.09 513.22V514.08M623.25 520.7V522.17M624.41 509.22V510.78M625.57 494.35V496.9M626.73 495.85V497.4M627.89 495.55V497.6M629.05 491.95V495M630.21 505.53V507.29M631.37 516.51V517.17M632.53 497.24V499.5M633.69 490.05V491.91M634.85 475.58V478.63M636.01 483.96V486.22M637.16 473.58V476.83M638.32 494.75V495.9M639.48 506.93V508.18M640.64 477.47V481.93M641.8 466.49V470.34M642.96 464.69V467.95M644.12 473.58V476.53M645.28 462.3V466.25M646.44 485.56V488.41M647.6 505.13V505.89M648.76 466.89V469.54M649.92 457.31V460.86M651.08 449.12V455.47M652.24 479.57V482.72M653.4 445.62V448.38M654.56 462.4V466.05M655.72 477.37V480.03M656.88 487.16V490.21M658.04 486.06V487.72M659.2 488.66V490.91M660.36 460V463.85M661.52 441.03V447.08M662.68 451.02V456.07M663.84 491.55V493.31M664.99 456.71V460.26M666.15 453.61V458.36M667.31 450.72V455.87M668.47 464.39V468.45M669.63 473.28V478.73M670.79 494.45V496.4M671.95 505.23V505.89M673.11 476.08V478.03M674.27 473.28V476.73M675.43 465.59V469.64M676.59 483.56V484.72M677.75 486.96V489.61M678.91 493.95V494.81M680.07 512.32V513.18M681.23 492.85V494.41M682.39 473.88V476.83M683.55 480.67V482.12M684.71 485.86V488.41M685.87 492.55V494.11M687.03 502.63V503.39M688.19 518.81V520.07M689.35 500.64V502.19M690.51 499.04V500.3M691.66 496.84V498.8M692.82 500.04V500.8M693.98 502.44V503.59M695.14 510.52V511.58M696.3 521.2V522.66M697.46 509.32V510.18M698.62 502.83V503.89M699.78 502.04V503.19M700.94 503.93V504.69M702.1 499.24V500.8M703.26 513.81V515.78M704.42 523.6V525.16M705.58 512.42V513.58M706.74 496.74V498.2M707.9 500.44V501.59M709.06 500.94V501.69M710.22 506.92V508.29M711.38 507.82V509.29M712.54 521.1V522.46M713.7 502.43V503.29M714.86 485.86V487.32M716.02 488.66V489.61M717.18 489.95V490.81M718.34 492.55V493.21M719.49 506.43V508.09M720.65 512.82V514.18M721.81 499.04V500M722.97 475.38V476.63M724.13 479.27V480.33M725.29 481.17V482.72M726.45 474.98V475.83M727.61 493.05V494.41M728.77 510.32V511.48M729.93 486.66V487.62M731.09 456.61V457.66M732.25 457.7V459.06M733.41 465.39V466.05M734.57 452.11V453.37M735.73 483.46V484.82M736.89 494.54V495.91M738.05 464.09V465.15M739.21 432.94V436.4M740.37 417.47V420.52M741.53 420.86V423.72M742.69 405.99V410.54M743.85 445.82V447.18M745.01 473.18V473.94M746.16 410.78V412.83M747.32 364.05V368M748.48 352.17V357.22M749.64 411.18V414.03M750.8 433.34V435.5M751.96 373.54V376.59M753.12 405.79V407.74M754.28 265.61V275.15M755.44 234.05V243.9M756.6 167.06V176.7M757.76 222.57V228.22"/><path stroke="#3874D0" d="M140.87 541.97V544.53M143.19 541.87V544.33M145.51 541.87V544.43M146.66 541.87V544.43M161.74 542.07V544.63M162.9 541.77V544.33M164.06 541.47V543.93M166.38 541.57V544.13M175.65 541.87V544.43M179.13 541.37V543.93M181.45 541.17V543.63M182.61 541.57V544.13M184.93 540.87V543.23M186.09 540.47V542.93M187.25 538.58V540.74M188.41 538.87V540.64M190.73 537.38V539.04M191.89 536.28V538.24M194.21 535.38V537.34M195.37 535.58V538.14M196.53 534.58V535.94M197.69 534.98V536.64M198.85 531.79V533.55M200.01 531.29V532.15M201.16 534.58V536.84M202.32 535.08V536.84M203.48 528.19V529.95M204.64 527V527.75M205.8 525.1V526.16M206.96 525.3V526.56M208.12 527.39V529.25M209.28 533.88V535.64M210.44 528.59V530.05M211.6 531.49V532.75M212.76 529.59V531.15M213.92 525.6V526.36M215.08 526.99V527.76M216.24 533.08V535.14M217.4 533.18V535.14M218.56 531.39V533.45M219.72 532.58V533.95M220.88 532.48V533.65M222.04 527.79V528.85M223.2 532.48V534.55M224.36 535.48V537.74M225.52 538.68V541.04M226.68 533.38V535.34M227.84 538.38V540.84M228.99 537.08V539.34M230.15 528.89V530.45M231.31 529.99V531.25M232.47 533.88V535.94M233.63 535.48V537.54M234.79 537.28V539.64M237.11 540.27V542.83M238.27 539.27V541.53M239.43 539.57V541.93M240.59 540.37V542.83M241.75 540.97V543.43M242.91 540.47V542.63M244.07 541.57V543.93M245.23 539.77V542.13M247.55 541.07V543.53M248.71 541.77V544.33M249.87 541.37V543.83M253.35 541.37V543.93M256.82 541.17V543.63M257.98 541.57V544.13M259.14 541.37V543.93M260.3 541.07V543.63M261.46 540.87V543.33M262.62 539.97V542.53M263.78 540.77V543.33M264.94 541.67V544.23M267.26 539.07V541.53M268.42 540.97V543.53M269.58 539.87V542.23M271.9 539.67V542.23M273.06 541.07V543.53M274.22 540.87V543.43M275.38 540.97V543.53M276.54 540.57V543.13M278.86 539.97V542.43M280.02 539.87V542.43M281.18 537.58V540.14M282.34 537.58V540.14M283.49 539.47V542.03M285.81 538.38V540.84M286.97 538.87V541.34M288.13 538.58V540.84M289.29 538.97V541.53M291.61 539.27V541.83M295.09 536.88V539.44M297.41 536.78V538.94M298.57 536.48V539.04M299.73 536.78V539.34M300.89 535.88V538.14M302.05 531.89V534.35M303.21 530.39V532.65M304.37 529.89V532.15M305.53 531.59V533.95M306.69 532.39V534.95M307.85 531.89V534.35M309.01 535.08V537.44M310.16 520.5V522.56M311.32 518.91V520.87M312.48 522.7V524.56M313.64 522.6V524.56M314.8 530.79V533.25M315.96 528.49V530.65M317.12 526.89V528.95M318.28 514.61V516.77M319.44 514.71V516.17M320.6 514.61V516.67M321.76 524.1V526.36M322.92 526.29V528.66M324.08 519.21V521.57M325.24 519.31V521.47M326.4 507.12V509.39M327.56 517.31V519.37M328.72 514.21V515.97M329.88 520.3V521.97M331.04 529.99V532.05M332.2 516.61V518.77M333.36 518.91V520.37M334.52 507.92V509.19M335.68 498.74V499.7M336.84 497.94V498.6M337.99 514.11V516.27M339.15 517.91V519.47M340.31 513.31V515.18M341.47 518.01V518.97M342.63 508.92V510.78M343.79 499.24V500.6M344.95 502.33V503.49M346.11 511.92V513.28M347.27 523.9V525.66M348.43 524.9V527.06M349.59 521.2V523.56M350.75 522.6V524.66M351.91 505.43V506.89M353.07 506.83V507.69M354.23 518.71V519.87M355.39 526.79V529.05M356.55 523V525.16M357.71 524.4V526.46M358.87 510.72V512.08M360.03 517.81V519.47M361.19 518.21V519.37M362.35 522.8V524.56M363.51 533.48V535.64M364.66 525.2V527.06M365.82 520.2V522.07M366.98 519.21V520.57M368.14 521.6V523.16M369.3 519.61V521.17M370.46 527.99V530.25M371.62 532.48V534.75M372.78 526.59V528.36M373.94 528.99V530.85M375.1 523.3V524.46M376.26 529.49V531.75M377.42 525.4V527.56M378.58 531.89V533.85M379.74 535.48V537.54M380.9 526.19V528.56M382.06 528.49V530.45M383.22 516.91V518.07M384.38 525.7V527.06M385.54 522.6V523.76M386.7 529.49V531.15M387.86 535.28V537.24M389.02 526V527.36M390.18 526.99V528.95M391.34 526.79V528.26M392.49 522.2V523.96M393.65 522V523.96M394.81 527.79V529.45M395.97 533.78V535.84M397.13 534.68V536.84M398.29 536.98V539.14M399.45 524.3V525.86M400.61 524.4V526.66M401.77 518.11V519.87M402.93 529.09V531.05M404.09 535.38V537.44M405.25 523.7V524.86M406.41 525V526.06M407.57 520.9V522.76M408.73 526V526.86M409.89 523.7V525.46M411.05 531.89V534.35M412.21 536.68V538.74M413.37 526V527.86M414.53 529.79V531.55M415.69 519.7V521.17M416.85 523.9V526.36M418.01 520V521.67M419.16 528.79V530.85M420.32 535.08V537.04M421.48 527.49V528.75M422.64 526.49V528.16M423.8 516.61V517.97M424.96 525.8V527.46M426.12 521.7V523.16M427.28 530.29V532.35M428.44 534.48V536.94M429.6 529.39V531.45M430.76 527.79V530.15M431.92 525.3V526.76M433.08 525.5V527.16M434.24 523.5V525.16M435.4 531.09V533.25M436.56 532.68V535.05M437.72 528.09V530.05M438.88 526.79V528.46M440.04 521.9V523.56M441.2 523.9V525.26M442.36 522.4V524.06M443.52 531.59V533.45M444.68 533.98V536.34M445.84 524V525.26M446.99 531.09V533.25M448.15 518.81V520.07M449.31 520V521.47M450.47 515.11V516.97M451.63 526.29V528.06M452.79 528.19V530.15M453.95 515.41V517.27M455.11 514.62V515.67M456.27 506.63V507.58M457.43 508.13V509.08M458.59 510.32V511.48M459.75 519.51V520.97M460.91 525.9V527.96M462.07 516.11V516.97M463.23 497.54V498.4M464.39 493.85V495.8M465.55 494.25V495.3M466.71 492.35V495M467.87 506.92V507.89M469.03 514.01V515.18M470.19 524.9V526.96M471.35 505.73V506.79M472.51 498.04V499.4M473.66 490.25V491.61M474.82 491.45V492.31M475.98 504.03V504.79M477.14 513.41V514.68M478.3 510.02V510.78M479.46 496.34V497.3M480.62 492.95V494.01M481.78 500.44V501.8M482.94 487.66V489.01M484.1 512.62V513.68M485.26 514.61V515.88M486.42 509.92V510.88M487.58 489.75V491.91M488.74 487.06V489.51M489.9 487.66V488.81M491.06 484.96V486.22M492.22 497.94V499.1M493.38 513.71V515.58M494.54 500.24V501.4M495.7 478.97V480.33M496.86 465.39V467.25M498.02 479.97V481.33M499.18 473.28V474.94M500.34 490.45V491.51M501.49 506.43V507.09M502.65 489.26V490.21M503.81 473.18V474.44M504.97 458.3V460.56M506.13 458.8V461.66M507.29 453.01V455.27M508.45 476.18V478.43M509.61 497.04V497.7M510.77 460.2V463.65M511.93 452.81V454.97M513.09 415.77V420.42M514.25 467.49V469.64M515.41 465.19V467.15M516.57 464.99V468.45M517.73 456.31V458.66M518.89 417.87V424.22M520.05 388.01V395.56M521.21 306.64V319.68M522.37 310.63V324.67M523.53 321.72V333.56M524.69 399.3V409.34M525.85 426.45V434M527.01 447.12V450.57M528.16 407.18V413.93M529.32 397.7V406.84M530.48 354.37V366.41M531.64 374.34V385.08M532.8 393.51V404.55M533.96 432.44V440.29M535.12 430.05V436.4M536.28 426.95V435.2M537.44 409.28V420.92M538.6 435.64V443.29M539.76 446.92V453.07M540.92 454.51V459.96M542.08 489.06V492.71M543.24 451.31V458.36M544.4 458.1V464.25M545.56 449.12V457.96M546.72 468.99V474.34M547.88 476.58V481.43M549.04 489.06V495M550.2 509.52V512.38M551.36 495.35V499.4M552.52 485.26V489.81M553.68 479.87V485.12M554.84 495.15V498.1M555.99 490.25V494.31M557.15 508.23V510.78M558.31 520.51V522.26M559.47 509.12V511.08M560.63 502.73V506.99M561.79 507.43V510.48M562.95 517.01V518.67M564.11 513.52V515.87M565.27 513.72V515.57M566.43 522.9V524.76M567.59 514.92V517.67M568.75 512.12V513.78M569.91 506.93V510.08M571.07 514.72V516.17M572.23 517.31V518.37M573.39 519.8V520.97M574.55 528.79V529.75M575.71 521.11V522.36M576.87 525.4V526.16M578.03 514.72V515.57M579.19 522.3V522.96M580.35 514.52V517.57M581.51 515.81V517.07M582.66 532.09V533.65M583.82 524V525.16M584.98 516.61V517.67M586.14 519.71V520.86M587.3 517.11V518.17M588.46 518.41V519.27M589.62 522.9V523.66M590.78 532.98V534.35M591.94 517.81V519.07M593.1 515.02V515.87M594.26 514.22V515.47M595.42 516.81V517.77M596.58 514.91V515.68M597.74 521.7V522.46M598.9 528.59V529.45M600.06 516.21V516.97M601.22 507.23V509.98M602.38 516.11V517.67M603.54 517.61V518.57M604.7 512.62V513.68M605.86 521.01V521.76M607.02 525.7V527.66M608.18 512.62V513.98M609.34 505.73V506.69M610.49 507.53V508.98M611.65 508.53V510.28M612.81 505.23V506.99M613.97 514.72V516.27M615.13 522.3V523.56M616.29 510.02V510.88M617.45 505.63V506.59M618.61 499.84V500.5M619.77 502.83V503.69M620.93 502.83V503.89M622.09 510.52V512.08M623.25 519.51V521.17M624.41 506.53V507.88M625.57 491.45V493.01M626.73 493.15V494.51M627.89 492.45V494.21M629.05 489.56V490.61M630.21 503.53V504.89M631.37 514.51V515.88M632.53 495.05V495.9M633.69 487.96V488.71M634.85 473.28V474.24M636.01 480.17V482.62M637.16 471.18V472.24M638.32 492.15V493.41M639.48 504.83V505.59M640.64 475.28V476.13M641.8 463.5V465.15M642.96 461.9V463.35M644.12 470.39V472.24M645.28 460.1V460.96M646.44 482.97V484.22M647.6 503.13V503.89M648.76 464.19V465.55M649.92 454.21V455.97M651.08 446.02V447.78M652.24 477.07V478.23M653.4 442.73V444.28M654.56 459.3V461.06M655.72 475.37V476.14M656.88 485.16V485.82M658.04 483.76V484.72M659.2 486.66V487.52M660.36 456.81V458.66M661.52 437.24V439.69M662.68 446.12V449.68M663.84 488.46V490.21M664.99 454.51V455.37M666.15 449.62V452.27M667.31 446.32V449.38M668.47 461.7V463.05M669.63 470.09V471.94M670.79 492.05V493.11M671.95 503.23V504.09M673.11 473.68V474.74M674.27 470.58V471.94M675.43 462.5V464.25M676.59 481.17V482.22M677.75 484.86V485.62M678.91 492.15V492.91M680.07 510.32V511.78M681.23 490.85V492.21M682.39 471.58V472.54M683.55 478.67V479.33M684.71 483.86V484.72M685.87 490.55V491.91M687.03 500.63V501.6M688.19 517.41V519.37M689.35 498.34V499.3M690.51 497.04V498.1M691.66 494.65V495.5M692.82 498.04V498.7M693.98 500.44V501.8M695.14 508.92V510.58M696.3 520V522.07M697.46 507.52V509.29M698.62 500.83V502.5M699.78 500.04V501.6M700.94 501.93V502.7M702.1 497.24V499.1M703.26 513.12V515.18M704.42 522.5V524.56M705.58 510.92V512.18M706.74 494.74V496.01M707.9 498.44V500.3M709.06 498.94V500.4M710.22 505.63V507.19M711.38 506.63V508.29M712.54 519.8V521.77M713.7 500.63V502.4M714.86 483.56V484.52M716.02 486.66V488.52M717.18 487.95V489.32M718.34 490.55V492.31M719.49 505.43V506.69M720.65 511.52V513.48M721.81 497.34V498.5M722.97 473.38V474.34M724.13 477.27V478.93M725.29 479.17V480.43M726.45 472.98V474.44M727.61 491.75V493.91M728.77 508.82V510.98M729.93 484.66V486.62M731.09 453.91V455.27M732.25 455.7V456.97M733.41 463.1V464.05M734.57 450.11V451.28M735.73 481.46V484.02M736.89 493.25V495.11M738.05 462.09V463.06M739.21 430.94V432.41M740.37 415.47V416.23M741.53 418.86V419.63M742.69 403.99V405.15M743.85 443.82V445.39M745.01 471.18V473.24M746.16 408.08V409.44M747.32 362.05V363.21M748.48 349.07V350.83M749.64 409.18V409.84M750.8 431.34V433.3M751.96 370.24V372.2M753.12 403.09V404.45M754.28 262.91V264.27M755.44 230.66V232.71M756.6 162.37V165.72M757.76 217.38V221.23"/><path stroke="#3A30BE" d="M142.03 541.57V543.93M148.98 541.87V544.43M155.94 542.07V544.63M169.86 541.87V544.43M179.13 541.27V543.83M180.29 541.47V544.03M184.93 540.57V543.13M188.41 537.98V540.24M189.57 538.58V540.74M190.73 536.38V538.54M191.89 535.58V537.64M194.21 534.68V537.04M195.37 535.48V538.04M196.53 533.28V535.34M197.69 533.98V535.94M198.85 530.89V533.15M200.01 529.49V531.05M201.16 534.18V536.24M202.32 534.18V536.24M203.48 527.29V529.45M204.64 525V526.56M205.8 523.5V525.46M206.96 523.9V525.66M208.12 526.59V528.16M209.28 532.98V534.85M210.44 527.39V529.25M211.6 530.09V532.45M212.76 528.49V530.15M213.92 523.7V524.86M215.08 525.1V526.76M216.24 532.48V534.35M217.4 532.48V534.75M218.56 530.79V532.95M219.72 531.29V532.85M220.88 530.99V531.95M222.04 526.19V528.46M223.2 531.89V533.25M224.36 535.08V536.84M225.52 538.38V540.84M226.68 532.68V534.45M227.84 538.18V540.34M228.99 536.68V539.04M230.15 527.79V529.55M231.31 528.59V529.85M232.47 533.28V535.64M233.63 534.88V536.34M234.79 536.98V539.14M235.95 538.97V541.34M237.11 540.17V542.43M238.27 538.87V541.14M239.43 539.27V541.44M240.59 540.17V542.53M241.75 540.77V543.33M242.91 539.97V542.23M244.07 541.27V543.73M245.23 539.47V541.83M246.39 541.27V543.83M247.55 540.87V543.43M251.03 541.77V544.33M253.35 541.27V543.73M254.51 541.87V544.43M256.82 540.97V543.33M261.46 540.67V543.23M266.1 540.97V543.43M267.26 538.87V541.34M269.58 539.57V542.13M270.74 540.17V542.73M273.06 540.87V543.33M276.54 540.47V542.93M278.86 539.77V542.33M280.02 539.77V542.33M282.34 537.48V539.94M284.65 540.57V543.13M285.81 538.18V540.74M286.97 538.68V541.24M289.29 538.87V541.34M291.61 539.17V541.73M292.77 536.88V539.24M293.93 537.48V539.94M295.09 536.78V539.34M296.25 536.58V539.04M297.41 536.28V538.84M298.57 536.38V538.94M300.89 535.48V538.04M302.05 531.69V534.15M303.21 529.99V532.55M304.37 529.49V531.85M305.53 531.29V533.75M306.69 532.29V534.65M307.85 531.69V534.25M309.01 534.78V537.24M310.16 519.9V522.46M311.32 518.21V520.77M312.48 521.9V524.36M313.64 521.9V524.26M314.8 530.59V532.85M315.96 527.99V530.55M317.12 526.29V528.46M318.28 514.11V516.57M319.44 513.51V515.58M320.6 514.01V515.88M321.76 523.7V526.16M322.92 526V527.96M324.08 518.91V521.17M325.24 518.81V521.17M326.4 506.73V508.49M327.56 516.71V519.17M328.72 513.31V515.68M329.88 519.31V521.07M331.04 529.39V531.65M332.2 516.11V518.17M333.36 517.71V520.07M334.52 506.53V508.29M335.68 496.74V498.8M336.84 495.94V498M337.99 513.61V515.78M339.15 516.81V519.17M340.31 512.52V514.28M341.47 516.31V518.57M342.63 508.12V509.39M343.79 497.94V499.4M344.95 500.83V502.2M346.11 510.62V511.98M347.27 523V525.06M348.43 524.4V526.56M349.59 520.9V523.16M350.75 522V524.26M351.91 504.23V506.19M353.07 505.03V506.79M354.23 517.21V519.07M355.39 526.39V528.66M356.55 522.5V524.66M357.71 523.8V526.16M358.87 509.42V511.38M360.03 516.81V519.07M361.19 516.71V519.17M362.35 521.9V523.76M363.51 532.98V535.34M364.66 524.4V526.66M365.82 519.41V521.47M366.98 517.91V520.17M368.14 520.5V522.56M369.3 518.51V520.47M370.46 527.59V530.05M372.78 525.7V527.96M373.94 528.19V530.65M375.1 521.8V523.86M376.26 529.09V531.35M377.42 524.9V527.06M378.58 531.19V533.65M379.74 534.88V537.14M380.9 525.9V527.96M382.06 527.79V530.05M383.22 515.41V517.47M384.38 524.4V526.26M385.54 521.1V522.56M386.7 528.49V530.35M387.86 534.58V536.94M389.02 524.7V525.96M390.18 526.29V528.56M391.34 525.6V527.86M392.49 521.3V523.16M393.65 521.3V523.26M394.81 526.79V528.95M395.97 533.18V535.24M397.13 534.18V536.34M398.29 536.48V538.84M399.45 523.2V525.46M400.61 524V525.86M401.77 517.21V518.77M402.93 528.39V530.45M404.09 534.78V536.94M405.25 522.2V523.96M406.41 523.4V525.46M407.57 520.1V521.67M408.73 524.2V525.66M409.89 522.8V524.26M411.05 531.69V533.95M412.21 536.08V538.34M413.37 525.2V527.26M414.53 528.89V530.95M415.69 518.51V520.37M416.85 523.7V524.96M418.01 519.01V520.07M419.16 528.19V530.15M420.32 534.38V536.94M421.48 526.09V528.36M422.64 525.5V527.46M423.8 515.31V517.07M424.96 524.8V526.66M426.12 520.5V521.97M427.28 529.69V531.75M429.6 528.79V531.15M430.76 527.49V529.95M431.92 524.1V526.36M433.08 524.5V526.56M434.24 522.5V524.46M435.4 530.59V532.85M436.56 532.39V534.55M437.72 527.39V529.05M438.88 525.8V527.86M440.04 520.9V522.76M441.2 522.6V524.66M442.36 521.4V523.46M443.52 530.79V533.25M444.68 533.68V536.24M445.84 522.6V524.46M446.99 530.59V532.55M448.15 517.41V518.47M449.31 518.81V520.67M450.47 514.31V516.37M451.63 525.4V526.16M452.79 527.49V529.25M453.95 514.61V516.07M455.11 512.62V513.58M456.27 504.63V505.99M457.43 506.13V507.99M458.59 508.82V509.78M459.75 518.31V519.77M460.91 525.3V527.16M462.07 514.31V515.68M463.23 495.54V496.21M464.39 491.35V492.51M465.55 492.25V493.01M466.71 490.35V491.21M467.87 505.23V506.69M469.03 512.52V513.98M470.19 524.3V526.46M471.35 504.13V505.39M472.51 496.04V497M473.66 487.66V488.91M474.82 488.96V490.11M475.98 502.13V503.79M477.14 512.02V514.08M478.3 507.53V508.78M479.46 494.34V495.81M480.62 491.35V492.01M481.78 499.14V500.2M482.94 485.66V486.92M484.1 511.02V512.58M485.26 513.22V515.18M486.42 508.22V510.08M487.58 487.46V488.41M488.74 485.06V486.02M489.9 485.66V486.52M491.06 482.67V483.62M492.22 496.44V497.2M493.38 512.92V514.68M494.54 498.64V499.4M495.7 476.97V478.03M496.86 462.9V464.05M498.02 477.97V479.43M499.18 471.28V472.64M500.34 488.45V489.62M501.49 504.43V506.19M502.65 487.26V488.82M503.81 470.78V471.84M504.97 455.71V456.96M506.13 456.8V457.57M507.29 449.92V451.67M508.45 473.88V474.84M509.61 495.04V496.61M510.77 458.1V458.86M511.93 449.32V451.47M513.09 411.08V414.43M514.25 465.49V466.45M515.41 462.6V463.85M516.57 462.3V463.65M517.73 454.31V455.07M518.89 414.47V416.53M520.05 382.82V386.67M521.21 295.96V305.3M522.37 301.35V309.29M523.53 313.63V320.38M524.69 394.2V397.96M525.85 420.86V425.11M527.01 443.93V445.78M528.16 399.6V405.84M529.32 391.91V396.36M530.48 344.48V353.03M531.64 365.15V373M532.8 387.51V392.17M533.96 425.16V431.1M535.12 422.66V428.71M536.28 418.87V425.61M537.44 401.19V407.94M538.6 428.45V434.3M539.76 440.53V445.58M540.92 447.62V453.17M542.08 484.46V487.72M543.24 445.42V449.97M544.4 451.41V456.76M545.56 441.53V447.78M546.72 460V467.65M547.88 470.39V475.24M549.04 483.36V487.72M550.2 505.83V508.18M551.36 490.65V494.01M552.52 480.77V483.92M553.68 473.58V478.53M554.84 489.06V493.81M555.99 483.17V488.91M557.15 502.83V506.89M558.31 517.81V519.17M559.47 504.63V507.78M560.63 497.54V501.39M561.79 502.83V506.09M562.95 514.42V515.67M564.11 509.12V512.18M565.27 509.02V512.38M566.43 519.81V521.56M567.59 510.72V513.58M568.75 508.33V510.78M569.91 502.73V505.59M571.07 511.02V513.38M572.23 513.52V515.97M573.39 517.81V518.97M574.55 527.09V527.76M575.71 517.81V519.77M576.87 523.4V524.76M578.03 511.22V513.38M579.19 519.61V520.96M580.35 512.52V513.18M581.51 512.62V514.47M582.66 530.99V532.85M583.82 521.7V523.16M584.98 513.82V515.67M586.14 517.71V518.57M587.3 514.82V515.77M588.46 516.21V517.27M589.62 521V522.17M590.78 531.69V533.45M591.94 515.81V516.67M593.1 511.52V513.68M594.26 512.12V512.88M595.42 514.42V515.47M596.58 512.72V513.68M597.74 519.8V521.47M598.9 526.79V528.16M600.06 514.31V515.58M601.22 504.33V505.89M602.38 513.42V514.77M603.54 515.02V516.27M604.7 510.62V512.08M605.86 519.01V520.27M607.02 525V526.76M608.18 510.92V511.98M609.34 503.13V504.69M610.49 505.53V506.49M611.65 506.53V507.69M612.81 502.83V503.89M613.97 512.72V513.98M615.13 520.9V522.56M616.29 508.22V509.09M617.45 503.53V504.29M618.61 497.34V498.5M619.77 500.83V501.7M620.93 500.54V501.49M622.09 508.52V509.88M623.25 518.51V520.17M624.41 504.53V505.69M625.57 489.36V490.11M626.73 490.35V491.81M627.89 490.45V491.51M629.05 487.56V488.82M630.21 502.23V503M631.37 513.22V514.78M632.53 493.05V494.11M633.69 485.96V486.72M634.85 471.28V472.84M636.01 478.17V478.93M637.16 469.18V470.05M638.32 490.15V491.01M639.48 502.83V504.69M640.64 473.28V474.14M641.8 460.6V462.16M642.96 459.3V460.56M644.12 468.39V469.25M645.28 457.7V458.76M646.44 480.77V481.63M647.6 501.13V502.8M648.76 462.19V462.96M649.92 452.21V452.87M651.08 442.33V444.68M652.24 475.07V476.14M653.4 440.23V441.39M654.56 457.3V458.07M655.72 473.48V474.74M656.88 483.16V484.62M658.04 481.76V483.13M659.2 484.86V486.12M660.36 454.51V455.47M661.52 433.54V435.9M662.68 442.83V444.78M663.84 486.46V488.02M664.99 452.51V453.27M666.15 447.62V448.88M667.31 444.23V444.98M668.47 459.7V460.56M669.63 467.69V468.75M670.79 490.05V491.41M671.95 501.43V503M673.11 471.18V472.34M674.27 468.29V469.24M675.43 460.5V461.26M676.59 479.17V480.43M677.75 482.86V484.82M678.91 490.25V492.01M680.07 509.12V510.78M681.23 489.55V490.81M682.39 469.58V471.24M683.55 476.67V477.44M684.71 482.06V483.63M685.87 489.25V491.21M687.03 498.94V500.3M688.19 516.71V518.97M689.35 496.34V498.2M690.51 495.44V496.8M691.66 492.65V494.21M692.82 496.04V497.7M693.98 499.14V501.3M695.14 507.92V510.08M696.3 519.41V521.67M697.46 506.63V508.19M698.62 499.84V501.2M699.78 498.94V500.9M700.94 500.04V501.4M702.1 496.44V498.5M703.26 512.52V514.58M704.42 521.9V524.06M705.58 509.52V511.48M706.74 493.35V494.81M707.9 497.64V499.6M709.06 497.74V499.7M710.22 504.53V506.09M711.38 505.63V507.59M712.54 519.11V521.37M713.7 499.74V501.6M714.86 481.56V483.23M716.02 485.86V488.02M717.18 486.66V488.82M718.34 489.65V492.01M719.49 504.03V506.39M720.65 510.82V513.18M721.81 495.84V497.3M722.97 471.68V473.74M724.13 476.27V477.73M725.29 477.77V479.23M726.45 471.78V473.44M727.61 491.25V493.21M728.77 508.32V510.58M729.93 483.96V485.82M731.09 451.91V453.77M732.25 454.31V455.87M733.41 461.1V462.76M734.57 448.62V450.58M735.73 481.36V483.83M736.89 492.45V494.71M738.05 460.4V462.16M739.21 429.75V430.81M740.37 413.57V414.73M741.53 416.97V418.23M742.69 402.49V404.25M743.85 442.73V444.49M745.01 470.58V472.44M746.16 406.08V406.95M747.32 360.55V362.12M748.48 347.07V348.04M749.64 407.18V409.24M750.8 430.64V432.61M751.96 368.24V369.1M753.12 401.09V402.55M754.28 260.91V261.57M755.44 228.46V229.32M756.6 159.67V161.03M757.76 215.28V216.04"/><path stroke="#6E2DA6" d="M143.19 541.67V544.23M152.46 541.87V544.43M165.22 541.57V544.13M182.61 541.47V544.03M187.25 538.08V540.64M188.41 537.58V540.04M190.73 535.88V538.34M191.89 534.98V537.54M194.21 534.38V536.94M196.53 532.68V535.05M197.69 533.28V535.64M198.85 530.49V533.05M200.01 528.39V530.65M202.32 533.58V536.14M203.48 526.79V529.15M204.64 523.9V526.46M205.8 522.8V524.96M206.96 523V525.16M208.12 525.5V527.36M209.28 532.19V534.75M210.44 526.59V528.85M211.6 529.79V532.05M212.76 527.49V529.65M213.92 522.2V524.26M215.08 524.1V526.16M216.24 531.69V533.85M218.56 530.29V532.45M219.72 530.19V532.45M220.88 529.29V531.65M222.04 525.8V527.86M223.2 530.59V532.95M224.36 534.18V536.64M225.52 538.18V540.74M226.68 531.79V533.55M227.84 537.68V540.14M228.99 536.38V538.84M230.15 526.89V528.56M231.31 527.19V529.35M232.47 532.98V535.44M233.63 533.68V536.04M235.95 538.68V541.04M238.27 538.48V540.94M239.43 538.78V541.14M241.75 540.67V543.23M242.91 539.57V541.93M245.23 539.17V541.73M247.55 540.77V543.33M248.71 541.67V544.23M249.87 541.17V543.73M251.03 541.67V544.23M252.19 541.67V544.23M253.35 541.07V543.63M257.98 541.47V543.93M259.14 541.27V543.73M269.58 539.47V541.93M271.9 539.57V542.13M277.7 540.07V542.53M278.86 539.67V542.23M281.18 537.48V540.04M285.81 538.08V540.64M289.29 538.68V541.24M291.61 539.07V541.63M297.41 536.18V538.74M302.05 531.49V534.05M303.21 529.89V532.35M304.37 529.19V531.65M305.53 531.09V533.65M306.69 531.99V534.55M307.85 531.59V534.15M310.16 519.8V522.36M311.32 518.11V520.47M312.48 521.7V524.16M313.64 521.6V524.16M315.96 527.89V530.45M317.12 525.8V528.26M318.28 513.91V516.17M319.44 512.92V515.48M320.6 513.22V515.78M321.76 523.5V525.96M324.08 518.51V521.07M325.24 518.51V520.97M326.4 505.83V508.19M327.56 516.51V518.77M328.72 513.02V515.28M329.88 518.41V520.87M333.36 517.41V519.77M334.52 505.63V508.09M335.68 496.14V498.5M336.84 495.34V497.6M337.99 513.12V515.58M339.15 516.51V518.97M340.31 511.62V513.88M341.47 515.91V518.47M342.63 506.73V508.79M343.79 496.74V498.6M344.95 499.54V501.9M346.11 509.32V511.68M348.43 523.9V525.96M349.59 520.5V522.56M350.75 521.6V524.16M351.91 503.53V505.89M353.07 504.13V506.29M354.23 516.41V518.77M356.55 522V524.06M358.87 508.72V510.88M360.03 516.41V518.97M362.35 521.1V523.56M363.51 532.68V535.24M364.66 524V526.56M365.82 518.81V521.17M366.98 517.51V519.77M368.14 519.9V522.17M369.3 517.81V520.07M370.46 527.39V529.95M372.78 525.3V527.76M375.1 521.2V523.66M376.26 528.69V531.15M377.42 524.4V526.66M378.58 530.99V533.15M379.74 534.48V537.04M380.9 525.3V527.76M382.06 527.39V529.85M383.22 514.81V517.17M384.38 523.6V526.06M385.54 519.9V522.17M386.7 527.69V530.15M387.86 534.28V536.74M389.02 523.3V525.66M390.18 525.9V528.46M391.34 525.2V527.66M392.49 520.5V522.76M393.65 520.6V522.96M394.81 526.29V528.56M395.97 532.58V534.95M397.13 533.68V535.94M399.45 522.8V525.26M400.61 523.2V525.26M401.77 516.11V517.77M402.93 527.79V530.35M405.25 521.3V523.56M406.41 522.8V525.36M407.57 519.01V521.27M408.73 523V525.16M409.89 521.6V524.06M412.21 535.68V538.14M413.37 524.6V527.06M414.53 528.29V530.55M415.69 517.71V519.97M416.85 522.3V524.46M418.01 517.41V519.87M421.48 525.7V528.16M422.64 524.8V527.06M423.8 514.41V516.37M424.96 524V526.36M426.12 519.31V521.27M427.28 529.09V531.55M429.6 528.49V530.85M430.76 527.29V529.75M431.92 523.7V526.26M433.08 523.9V526.16M435.4 530.19V532.35M437.72 526.39V528.95M438.88 525.2V527.66M440.04 520.1V522.66M441.2 522V524.36M442.36 520.8V523.26M443.52 530.59V533.15M444.68 533.58V536.04M445.84 521.8V523.86M448.15 515.81V517.87M449.31 518.01V520.57M450.47 513.71V515.38M451.63 523.5V525.86M452.79 526.59V529.05M453.95 513.41V515.48M455.11 510.92V513.08M456.27 503.33V505.49M457.43 505.33V507.39M458.59 507.12V509.58M459.75 517.11V519.27M460.91 524.5V526.76M462.07 513.02V514.98M463.23 493.55V495.51M464.39 489.35V491.41M465.55 490.35V492.61M466.71 488.55V490.91M467.87 504.03V505.69M469.03 511.32V513.38M470.19 523.8V526.16M471.35 502.73V504.69M472.51 494.34V496.71M473.66 485.66V487.82M474.82 486.96V488.72M475.98 501.13V503M477.14 511.42V513.68M478.3 505.53V507.59M479.46 493.15V494.81M480.62 489.35V491.51M481.78 497.54V499.9M482.94 484.26V486.42M484.1 509.92V512.08M485.26 512.52V514.98M486.42 507.42V509.58M487.58 485.46V487.42M488.74 483.36V484.62M489.9 483.86V485.32M491.06 480.67V482.73M492.22 494.54V496.9M493.38 512.02V514.28M494.54 496.64V498.8M495.7 475.37V477.04M496.86 460.9V462.66M498.02 476.77V478.73M499.18 469.98V471.44M500.34 486.96V489.22M501.49 503.53V505.59M502.65 486.16V488.12M503.81 468.78V470.05M504.97 453.71V455.37M506.13 454.91V456.67M507.29 447.92V449.88M508.45 471.88V474.04M509.61 493.95V496.51M510.77 456.1V458.27M511.93 447.32V449.18M513.09 409.08V409.84M514.25 463.79V465.65M515.41 460.6V462.06M516.57 460.3V462.26M517.73 452.41V454.37M518.89 412.47V413.53M520.05 380.53V381.48M521.21 292.66V294.62M522.37 298.55V300.01M523.53 311.53V312.29M524.69 391.81V392.86M525.85 418.86V419.83M527.01 441.73V442.59M528.16 396.4V398.26M529.32 389.31V390.57M530.48 340.09V343.14M531.64 360.76V363.81M532.8 384.82V386.17M533.96 422.26V423.82M535.12 419.07V421.32M536.28 415.97V417.53M537.44 396.1V399.85M538.6 425.95V427.11M539.76 436.64V439.19M540.92 445.42V446.28M542.08 482.37V483.12M543.24 441.83V444.08M544.4 446.72V450.07M545.56 437.94V440.19M546.72 457.41V458.66M547.88 467.29V469.05M549.04 480.87V482.02M550.2 503.83V505.59M551.36 488.56V489.31M552.52 476.68V479.43M553.68 470.98V472.24M554.84 486.66V487.72M555.99 480.47V481.83M557.15 500.83V501.9M558.31 515.81V517.17M559.47 502.63V503.59M560.63 495.45V496.2M561.79 500.83V501.6M562.95 512.42V514.18M564.11 507.12V507.89M565.27 507.02V507.79M566.43 517.61V518.47M567.59 508.72V509.88M568.75 506.33V506.99M569.91 499.74V501.39M571.07 509.02V509.68M572.23 511.42V512.18M573.39 515.81V517.57M574.55 525.1V527.06M575.71 515.81V517.57M576.87 522.1V523.46M578.03 509.22V510.88M579.19 517.31V518.27M580.35 510.42V511.18M581.51 510.62V511.88M582.66 530.19V532.75M583.82 519.7V521.57M584.98 511.82V513.18M586.14 515.91V516.87M587.3 512.82V514.78M588.46 514.21V515.48M589.62 519.51V521.17M590.78 530.79V533.15M591.94 514.01V515.97M593.1 509.52V510.98M594.26 510.12V511.28M595.42 512.42V514.48M596.58 510.72V511.78M597.74 518.81V520.87M598.9 525.5V527.36M600.06 512.92V514.78M601.22 502.33V504.19M602.38 511.42V512.78M603.54 513.02V514.58M604.7 509.42V510.68M605.86 517.61V519.37M607.02 524.1V526.06M608.18 508.92V511.08M609.34 501.13V502.8M610.49 503.83V505.39M611.65 505.03V507.29M612.81 500.83V501.9M613.97 511.32V513.48M615.13 519.9V521.67M616.29 506.43V508.39M617.45 501.53V503.49M618.61 495.34V497.3M619.77 499.04V500.9M620.93 498.54V500.2M622.09 507.22V509.29M623.25 517.51V519.87M624.41 503.03V504.89M625.57 487.36V489.32M626.73 488.35V490.32M627.89 488.85V491.21M629.05 486.16V487.92M630.21 500.34V502.7M631.37 512.12V514.28M632.53 491.45V493.81M633.69 484.06V485.72M634.85 470.18V471.94M636.01 476.27V478.13M637.16 467.39V468.95M638.32 488.35V490.51M639.48 502.03V504.29M640.64 471.48V473.74M641.8 458.6V460.56M642.96 457.3V458.86M644.12 466.59V469.05M645.28 455.7V457.27M646.44 478.77V481.33M647.6 500.14V502.3M648.76 460.3V462.06M649.92 450.21V452.37M651.08 440.33V442.19M652.24 473.48V475.04M653.4 438.23V439.89M654.56 455.41V456.97M655.72 472.08V474.04M656.88 481.96V483.93M658.04 480.47V482.73M659.2 483.46V485.72M660.36 452.51V454.17M661.52 431.54V432.8M662.68 440.83V441.79M663.84 485.36V487.62M664.99 450.61V452.37M666.15 446.22V448.08M667.31 442.23V443.89M668.47 457.9V459.46M669.63 465.69V467.65M670.79 488.75V490.61M671.95 500.34V502.9M673.11 469.18V471.64M674.27 466.29V468.25M675.43 458.6V460.56M676.59 477.77V479.93M677.75 482.16V484.62M678.91 489.35V491.31M681.23 488.15V490.61M682.39 468.58V470.55M683.55 474.78V476.44M684.71 480.97V483.43M685.87 488.55V490.91M687.03 497.64V500M688.19 516.31V518.77M689.35 495.54V497.7M690.51 494.14V496.21M691.66 491.55V494.01M692.82 495.04V497.6M693.98 498.64V501.2M695.14 507.42V509.78M696.3 519.01V521.27M697.46 505.53V507.89M698.62 498.54V500.9M700.94 498.74V501.3M702.1 495.84V498.1M703.26 511.92V514.38M704.42 521.4V523.86M705.58 508.82V511.28M706.74 492.15V494.71M709.06 497.04V499.5M710.22 503.43V505.99M711.38 504.93V507.19M712.54 518.71V521.17M713.7 498.94V501.3M714.86 480.57V482.93M716.02 485.36V487.82M717.18 486.16V488.62M718.34 489.35V491.41M719.49 503.73V506.19M720.65 510.52V513.08M721.81 494.64V497.2M722.97 471.08V473.54M724.13 475.07V477.53M725.29 476.57V478.83M726.45 470.78V473.24M727.61 490.55V493.01M729.93 483.16V485.52M731.09 451.11V452.87M732.25 453.21V455.37M733.41 460.1V462.66M734.57 447.92V449.98M735.73 481.17V483.43M736.89 492.05V494.61M738.05 459.5V461.86M739.21 428.15V430.31M740.37 412.07V414.23M741.53 415.57V417.93M742.69 401.59V403.95M743.85 441.83V444.09M745.01 469.78V472.14M746.16 404.29V406.25M747.32 359.46V361.82M748.48 345.38V347.34M749.64 406.58V409.04M750.8 429.95V432.21M751.96 366.44V368.71M753.12 399.89V402.05M754.28 258.91V260.37M755.44 226.46V227.63M756.6 157.67V159.13M757.76 213.28V215.44"/><path stroke="#96288F" d="M196.53 532.39V534.95M206.96 522.5V525.06M220.88 528.99V531.45M222.04 525.2V527.76M224.36 533.98V536.54M498.02 476.07V478.43M499.18 468.78V471.24M502.65 485.46V488.02M506.13 454.01V456.57M509.61 493.85V496.41M513.09 407.18V409.64M514.25 462.99V465.55M515.41 459.4V461.96M518.89 410.87V413.44M520.05 378.53V380.99M523.53 309.53V311.99M525.85 417.17V419.73M528.16 394.4V396.96M529.32 387.31V389.87M530.48 338.09V340.65M531.64 358.76V361.12M535.12 417.07V419.63M537.44 394.1V396.46M538.6 423.95V426.51M539.76 434.64V437M542.08 480.37V482.93M543.24 439.83V442.29M544.4 444.72V447.28M545.56 435.94V438.4M546.72 455.41V457.87M547.88 465.29V467.85M549.04 478.87V481.43M550.2 502.93V505.49M552.52 474.68V477.24M553.68 468.98V471.44M554.84 484.66V487.12M555.99 478.47V480.93M560.63 493.45V495.71M561.79 498.94V501.4M562.95 511.52V514.08M565.27 505.13V507.69M566.43 515.61V518.17M567.59 507.22V509.78M569.91 497.74V500.3M571.07 507.02V509.49M574.55 524.4V526.96M575.71 514.91V517.27M578.03 508.22V510.78M579.19 515.31V517.77M582.66 530.09V532.65M587.3 512.12V514.68M589.62 518.51V521.07M591.94 513.31V515.88M593.1 508.32V510.78M595.42 511.82V514.38M598.9 524.7V527.26M601.22 501.53V503.89M602.38 510.12V512.48M603.54 511.92V514.48M604.7 508.02V510.58M605.86 516.71V519.27M611.65 504.63V507.19M612.81 499.24V501.8M615.13 519.01V521.37M617.45 500.83V503.39M619.77 498.24V500.8M629.05 485.26V487.82M690.51 493.55V496.11M695.14 507.12V509.68M698.62 498.24V500.8M705.58 508.62V511.08M722.97 470.88V473.44M732.25 452.71V455.27M734.57 447.32V449.88M739.21 427.65V430.01M740.37 411.57V414.13M741.53 415.27V417.83M748.48 344.68V347.14M750.8 429.55V432.11M755.44 224.97V227.53M756.6 156.47V158.83M757.76 212.78V215.24"/><path stroke="#7A1F4E" d="M197.69 532.98V535.54M198.85 530.39V532.95M202.32 533.48V536.04M205.8 522.3V524.86M206.96 522.4V524.96M213.92 521.6V524.16M217.4 532.09V534.65M220.88 528.79V531.35M223.2 530.29V532.85M225.52 538.08V540.64M226.68 530.89V533.45M230.15 525.9V528.36M233.63 533.38V535.94M234.79 536.48V539.04M238.27 538.28V540.84M485.26 512.32V514.88M492.22 494.24V496.8M506.13 453.91V456.47M510.77 455.61V458.17M521.21 290.66V293.12M523.53 309.33V311.89M591.94 513.22V515.78M605.86 516.61V519.17M627.89 488.55V491.11M631.37 511.62V514.18M642.96 456.2V458.76M644.12 466.39V468.95M662.68 439.13V441.69M663.84 484.96V487.52M666.15 445.42V447.98"/></g>
<g fill="#fff"><text><tspan x="136.15" y="51.5" font-family="'Liberation Mono','IPAGothic',monospace" font-size="35.5" letter-spacing="2.3">東京都の</tspan><tspan x="286.2" y="51.5" font-family="'Liberation Mono',monospace" font-size="39.4" textLength="151.2" lengthAdjust="spacingAndGlyphs" text-anchor="start" stroke="#fff" stroke-width=".3">COVID-19</tspan><tspan x="438.55" y="51.5" font-family="'Liberation Mono','IPAGothic',monospace" font-size="35.5" letter-spacing="2.3">新規陽性者数</tspan></text>
<text><tspan x="89.4" y="548.5" font-family="'Liberation Mono',monospace" font-size="21.1" textLength="11" lengthAdjust="spacingAndGlyphs" text-anchor="end" stroke="#fff" stroke-width=".3">0</tspan></text>
<text><tspan x="89.4" y="471.62" font-family="'Liberation Mono',monospace" font-size="21.1" textLength="33" lengthAdjust="spacingAndGlyphs" text-anchor="end" stroke="#fff" stroke-width=".3">770</tspan></text>
<text><tspan x="89.4" y="394.74" font-family="'Liberation Mono',monospace" font-size="21.1" textLength="55" lengthAdjust="spacingAndGlyphs" text-anchor="end" stroke="#fff" stroke-width=".3">1,540</tspan></text>
<text><tspan x="89.4" y="317.86" font-family="'Liberation Mono',monospace" font-size="21.1" textLength="55" lengthAdjust="spacingAndGlyphs" text-anchor="end" stroke="#fff" stroke-width=".3">2,310</tspan></text>
<text><tspan x="89.4" y="240.98" font-family="'Liberation Mono',monospace" font-size="21.1" textLength="55" lengthAdjust="spacingAndGlyphs" text-anchor="end" stroke="#fff" stroke-width=".3">3,080</tspan></text>
<text><tspan x="89.4" y="164.1" font-family="'Liberation Mono',monospace" font-size="21.1" textLength="55" lengthAdjust="spacingAndGlyphs" text-anchor="end" stroke="#fff" stroke-width=".3">3,850</tspan></text>
<text><tspan x="164" y="576" font-family="'Liberation Mono',monospace" font-size="21.1" textLength="33.15" lengthAdjust="spacingAndGlyphs" text-anchor="middle" stroke="#fff" stroke-width=".3">3/5</tspan></text>
<text><tspan x="192.99" y="576" font-family="'Liberation Mono',monospace" font-size="21.1" textLength="44.2" lengthAdjust="spacingAndGlyphs" text-anchor="middle" stroke="#fff" stroke-width=".3">3/30</tspan></text>
<text><tspan x="221.98" y="576" font-family="'Liberation Mono',monospace" font-size="21.1" textLength="44.2" lengthAdjust="spacingAndGlyphs" text-anchor="middle" stroke="#fff" stroke-width=".3">4/24</tspan></text>
<text><tspan x="250.97" y="576" font-family="'Liberation Mono',monospace" font-size="21.1" textLength="44.2" lengthAdjust="spacingAndGlyphs" text-anchor="middle" stroke="#fff" stroke-width=".3">5/19</tspan></text>
<text><tspan x="279.96" y="576" font-family="'Liberation Mono',monospace" font-size="21.1" textLength="44.2" lengthAdjust="spacingAndGlyphs" text-anchor="middle" stroke="#fff" stroke-width=".3">6/13</tspan></text>
<text><tspan x="308.95" y="576" font-family="'Liberation Mono',monospace" font-size="21.1" textLength="33.15" lengthAdjust="spacingAndGlyphs" text-anchor="middle" stroke="#fff" stroke-width=".3">7/8</tspan></text>
<text><tspan x="337.94" y="576" font-family="'Liberation Mono',monospace" font-size="21.1" textLength="33.15" lengthAdjust="spacingAndGlyphs" text-anchor="middle" stroke="#fff" stroke-width=".3">8/2</tspan></text>
<text><tspan x="366.93" y="576" font-family="'Liberation Mono',monospace" font-size="21.1" textLength="44.2" lengthAdjust="spacingAndGlyphs" text-anchor="middle" stroke="#fff" stroke-width=".3">8/27</tspan></text>
<text><tspan x="395.92" y="576" font-family="'Liberation Mono',monospace" font-size="21.1" textLength="44.2" lengthAdjust="spacingAndGlyphs" text-anchor="middle" stroke="#fff" stroke-width=".3">9/21</tspan></text>
<text><tspan x="424.9" y="576" font-family="'Liberation Mono',monospace" font-size="21.1" textLength="55.25" lengthAdjust="spacingAndGlyphs" text-anchor="middle" stroke="#fff" stroke-width=".3">10/16</tspan></text>
<text><tspan x="453.89" y="576" font-family="'Liberation Mono',monospace" font-size="21.1" textLength="55.25" lengthAdjust="spacingAndGlyphs" text-anchor="middle" stroke="#fff" stroke-width=".3">11/10</tspan></text>
<text><tspan x="482.88" y="576" font-family="'Liberation Mono',monospace" font-size="21.1" textLength="44.2" lengthAdjust="spacingAndGlyphs" text-anchor="middle" stroke="#fff" stroke-width=".3">12/5</tspan></text>
<text><tspan x="511.87" y="576" font-family="'Liberation Mono',monospace" font-size="21.1" textLength="55.25" lengthAdjust="spacingAndGlyphs" text-anchor="middle" stroke="#fff" stroke-width=".3">12/30</tspan></text>
<text><tspan x="540.86" y="576" font-family="'Liberation Mono',monospace" font-size="21.1" textLength="44.2" lengthAdjust="spacingAndGlyphs" text-anchor="middle" stroke="#fff" stroke-width=".3">1/24</tspan></text>
<text><tspan x="569.85" y="576" font-family="'Liberation Mono',monospace" font-size="21.1" textLength="44.2" lengthAdjust="spacingAndGlyphs" text-anchor="middle" stroke="#fff" stroke-width=".3">2/18</tspan></text>
<text><tspan x="598.84" y="576" font-family="'Liberation Mono',monospace" font-size="21.1" textLength="44.2" lengthAdjust="spacingAndGlyphs" text-anchor="middle" stroke="#fff" stroke-width=".3">3/15</tspan></text>
<text><tspan x="627.83" y="576" font-family="'Liberation Mono',monospace" font-size="21.1" textLength="33.15" lengthAdjust="spacingAndGlyphs" text-anchor="middle" stroke="#fff" stroke-width=".3">4/9</tspan></text>
<text><tspan x="656.82" y="576" font-family="'Liberation Mono',monospace" font-size="21.1" textLength="33.15" lengthAdjust="spacingAndGlyphs" text-anchor="middle" stroke="#fff" stroke-width=".3">5/4</tspan></text>
<text><tspan x="757.7" y="576" font-family="'Liberation Mono',monospace" font-size="21.1" textLength="44.2" lengthAdjust="spacingAndGlyphs" text-anchor="middle" stroke="#fff" stroke-width=".3">7/30</tspan></text>
<rect x="53" y="70" width="20.8" height="20.8" fill="#FDB827"/><text><tspan x="87" y="85.2" font-family="'Liberation Mono',monospace" font-size="14.3" textLength="14.6" lengthAdjust="spacingAndGlyphs" text-anchor="start" stroke="#fff" stroke-width=".25">10</tspan><tspan x="101.8" y="85.4" font-family="'Liberation Mono','IPAGothic',monospace" font-size="14.2" letter-spacing="0.4">歳未満</tspan></text>
<rect x="166" y="70" width="20.8" height="20.8" fill="#FFF22D"/><text><tspan x="200" y="85.2" font-family="'Liberation Mono',monospace" font-size="14.3" textLength="14.6" lengthAdjust="spacingAndGlyphs" text-anchor="start" stroke="#fff" stroke-width=".25">10</tspan><tspan x="214.8" y="85.4" font-family="'Liberation Mono','IPAGothic',monospace" font-size="14.2" letter-spacing="0.4">代</tspan></text>
<rect x="249" y="70" width="20.8" height="20.8" fill="#D4FA2D"/><text><tspan x="283" y="85.2" font-family="'Liberation Mono',monospace" font-size="14.3" textLength="14.6" lengthAdjust="spacingAndGlyphs" text-anchor="start" stroke="#fff" stroke-width=".25">20</tspan><tspan x="297.8" y="85.4" font-family="'Liberation Mono','IPAGothic',monospace" font-size="14.2" letter-spacing="0.4">代</tspan></text>
<rect x="332" y="70" width="20.8" height="20.8" fill="#7BF53A"/><text><tspan x="366" y="85.2" font-family="'Liberation Mono',monospace" font-size="14.3" textLength="14.6" lengthAdjust="spacingAndGlyphs" text-anchor="start" stroke="#fff" stroke-width=".25">30</tspan><tspan x="380.8" y="85.4" font-family="'Liberation Mono','IPAGothic',monospace" font-size="14.2" letter-spacing="0.4">代</tspan></text>
<rect x="415" y="70" width="20.8" height="20.8" fill="#3CF05A"/><text><tspan x="449" y="85.2" font-family="'Liberation Mono',monospace" font-size="14.3" textLength="14.6" lengthAdjust="spacingAndGlyphs" text-anchor="start" stroke="#fff" stroke-width=".25">40</tspan><tspan x="463.8" y="85.4" font-family="'Liberation Mono','IPAGothic',monospace" font-size="14.2" letter-spacing="0.4">代</tspan></text>
<rect x="498" y="70" width="20.8" height="20.8" fill="#3CE8A8"/><text><tspan x="532" y="85.2" font-family="'Liberation Mono',monospace" font-size="14.3" textLength="14.6" lengthAdjust="spacingAndGlyphs" text-anchor="start" stroke="#fff" stroke-width=".25">50</tspan><tspan x="546.8" y="85.4" font-family="'Liberation Mono','IPAGothic',monospace" font-size="14.2" letter-spacing="0.4">代</tspan></text>
<rect x="581" y="70" width="20.8" height="20.8" fill="#3CC8DC"/><text><tspan x="615" y="85.2" font-family="'Liberation Mono',monospace" font-size="14.3" textLength="14.6" lengthAdjust="spacingAndGlyphs" text-anchor="start" stroke="#fff" stroke-width=".25">60</tspan><tspan x="629.8" y="85.4" font-family="'Liberation Mono','IPAGothic',monospace" font-size="14.2" letter-spacing="0.4">代</tspan></text>
<rect x="664" y="70" width="20.8" height="20.8" fill="#3874D0"/><text><tspan x="698" y="85.2" font-family="'Liberation Mono',monospace" font-size="14.3" textLength="14.6" lengthAdjust="spacingAndGlyphs" text-anchor="start" stroke="#fff" stroke-width=".25">70</tspan><tspan x="712.8" y="85.4" font-family="'Liberation Mono','IPAGothic',monospace" font-size="14.2" letter-spacing="0.4">代</tspan></text>
<rect x="215" y="110" width="20.8" height="20.8" fill="#3A30BE"/><text><tspan x="249" y="125.2" font-family="'Liberation Mono',monospace" font-size="14.3" textLength="14.6" lengthAdjust="spacingAndGlyphs" text-anchor="start" stroke="#fff" stroke-width=".25">80</tspan><tspan x="263.8" y="125.4" font-family="'Liberation Mono','IPAGothic',monospace" font-size="14.2" letter-spacing="0.4">代</tspan></text>
<rect x="298" y="110" width="20.8" height="20.8" fill="#6E2DA6"/><text><tspan x="332" y="125.2" font-family="'Liberation Mono',monospace" font-size="14.3" textLength="14.6" lengthAdjust="spacingAndGlyphs" text-anchor="start" stroke="#fff" stroke-width=".25">90</tspan><tspan x="346.8" y="125.4" font-family="'Liberation Mono','IPAGothic',monospace" font-size="14.2" letter-spacing="0.4">代</tspan></text>
<rect x="381" y="110" width="20.8" height="20.8" fill="#96288F"/><text><tspan x="415" y="125.2" font-family="'Liberation Mono',monospace" font-size="14.3" textLength="21.9" lengthAdjust="spacingAndGlyphs" text-anchor="start" stroke="#fff" stroke-width=".25">100</tspan><tspan x="437.1" y="125.4" font-family="'Liberation Mono','IPAGothic',monospace" font-size="14.2" letter-spacing="0.4">歳以上</tspan></text>
<rect x="501" y="110" width="20.8" height="20.8" fill="#7A1F4E"/><text><tspan x="535.2" y="125.4" font-family="'Liberation Mono','IPAGothic',monospace" font-size="14.2" letter-spacing="0.4">不明</tspan></text>
</g>
</svg>
</body></html>
